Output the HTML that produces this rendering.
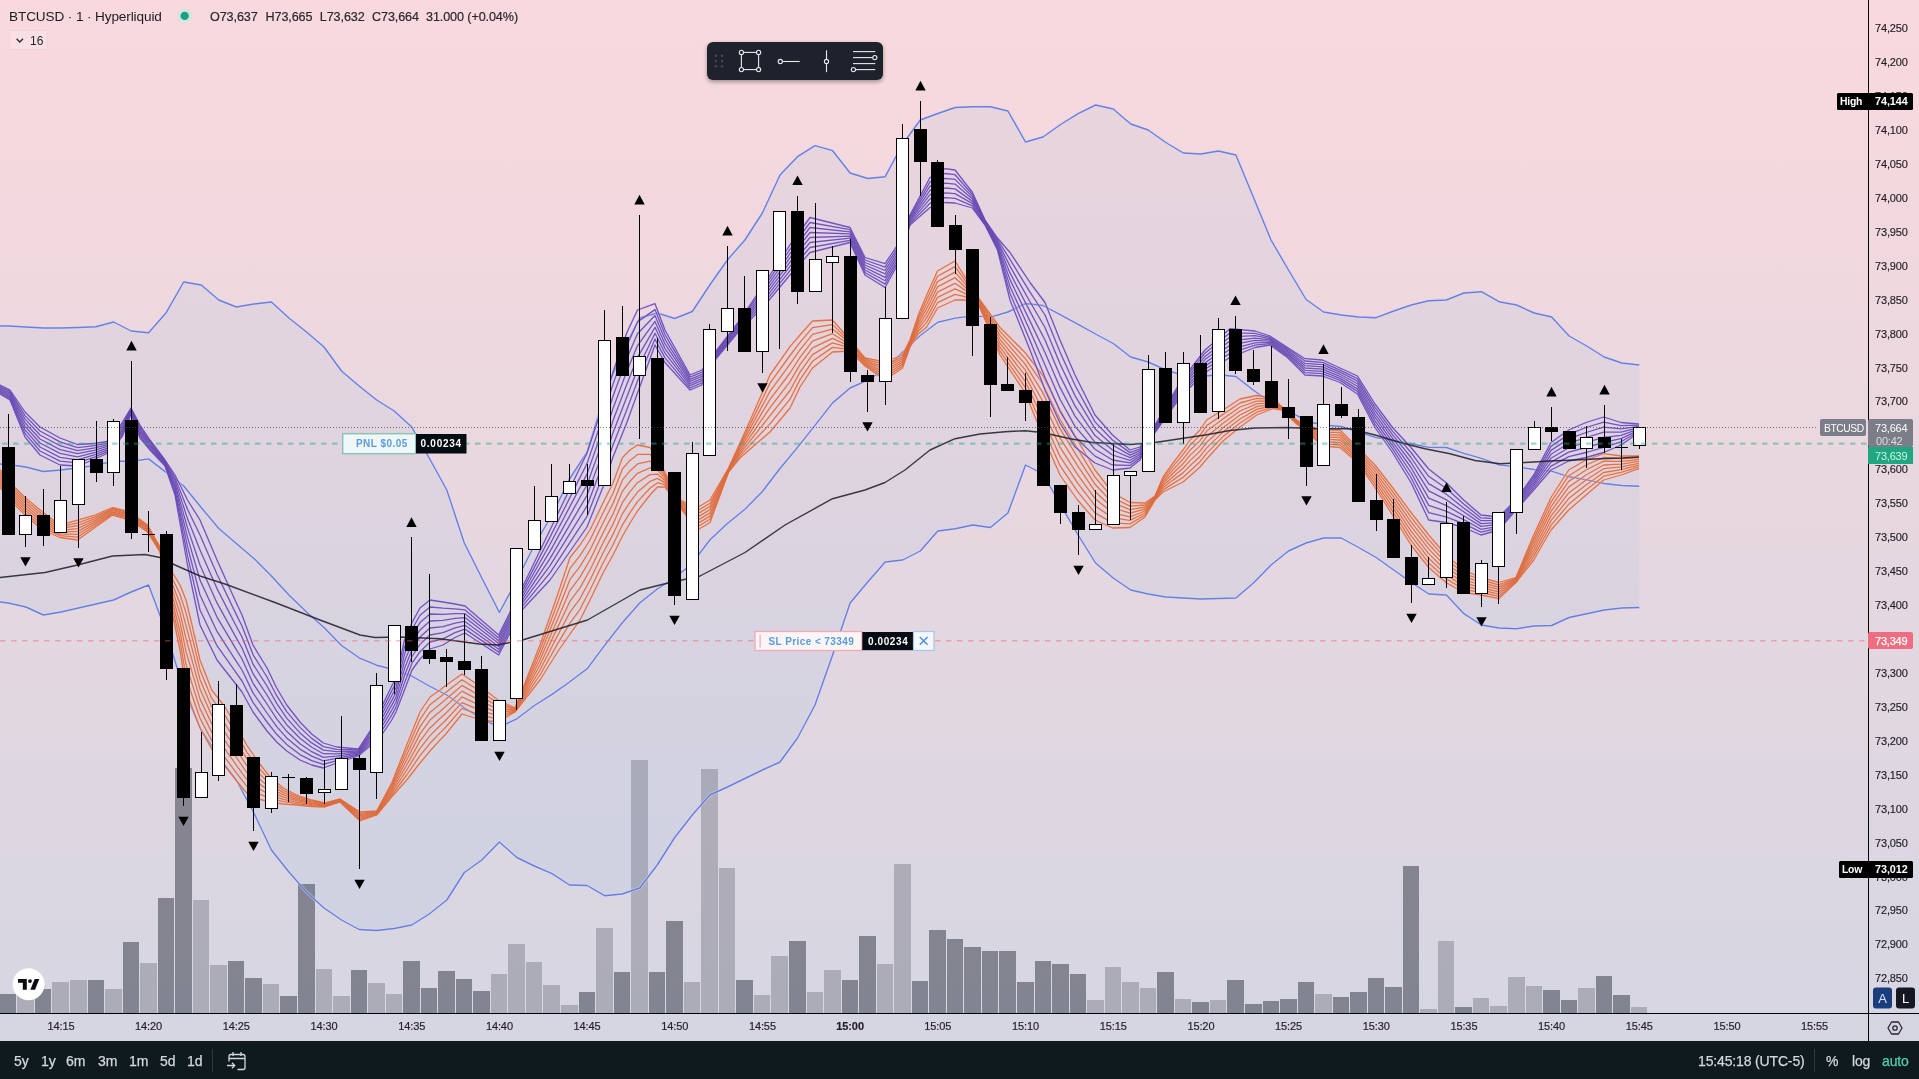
<!DOCTYPE html>
<html><head><meta charset="utf-8"><title>BTCUSD chart</title>
<style>
html,body{margin:0;padding:0;width:1919px;height:1079px;overflow:hidden;background:#0f1a1f;font-family:"Liberation Sans", sans-serif;}
#wrap{position:absolute;left:0;top:0;width:1919px;height:1041px;background:linear-gradient(to bottom,#f9d9dd 0px,#d6d6e2 1013px,#d6d6e2 1041px);}
#chart{position:absolute;left:0;top:0;display:block;will-change:transform;}
#bar{position:absolute;left:0;top:1041px;width:1919px;height:38px;background:#0f1a1f;color:#d4d7de;font-size:14px;}
#bar span{will-change:transform;position:absolute;top:11px;line-height:18px;white-space:nowrap;letter-spacing:-0.15px;-webkit-text-stroke:0.25px #d4d7de;}
#bar .sep{position:absolute;top:8px;width:1px;height:23px;background:#2c3a42;}
</style></head><body>
<div id="wrap">
<svg id="chart" width="1919" height="1041" viewBox="0 0 1919 1041">
<defs><clipPath id="pane"><rect x="0" y="0" width="1868" height="1013"/></clipPath></defs>
<g clip-path="url(#pane)">
<g shape-rendering="crispEdges">
<rect x="0" y="994" width="16" height="19" fill="rgba(6,12,24,0.405)"/>
<rect x="17" y="990" width="17" height="23" fill="rgba(6,12,24,0.205)"/>
<rect x="35" y="989" width="16" height="24" fill="rgba(6,12,24,0.405)"/>
<rect x="52" y="982" width="17" height="31" fill="rgba(6,12,24,0.205)"/>
<rect x="70" y="980" width="17" height="33" fill="rgba(6,12,24,0.205)"/>
<rect x="88" y="980" width="16" height="33" fill="rgba(6,12,24,0.405)"/>
<rect x="105" y="989" width="17" height="24" fill="rgba(6,12,24,0.205)"/>
<rect x="123" y="942" width="16" height="71" fill="rgba(6,12,24,0.405)"/>
<rect x="140" y="963" width="17" height="50" fill="rgba(6,12,24,0.205)"/>
<rect x="158" y="898" width="16" height="115" fill="rgba(6,12,24,0.405)"/>
<rect x="175" y="768" width="17" height="245" fill="rgba(6,12,24,0.405)"/>
<rect x="193" y="900" width="16" height="113" fill="rgba(6,12,24,0.205)"/>
<rect x="210" y="965" width="17" height="48" fill="rgba(6,12,24,0.205)"/>
<rect x="228" y="961" width="16" height="52" fill="rgba(6,12,24,0.405)"/>
<rect x="245" y="978" width="17" height="35" fill="rgba(6,12,24,0.405)"/>
<rect x="263" y="984" width="16" height="29" fill="rgba(6,12,24,0.205)"/>
<rect x="280" y="996" width="17" height="17" fill="rgba(6,12,24,0.405)"/>
<rect x="298" y="884" width="17" height="129" fill="rgba(6,12,24,0.405)"/>
<rect x="316" y="969" width="16" height="44" fill="rgba(6,12,24,0.205)"/>
<rect x="333" y="996" width="17" height="17" fill="rgba(6,12,24,0.205)"/>
<rect x="351" y="970" width="16" height="43" fill="rgba(6,12,24,0.405)"/>
<rect x="368" y="983" width="17" height="30" fill="rgba(6,12,24,0.205)"/>
<rect x="386" y="994" width="16" height="19" fill="rgba(6,12,24,0.205)"/>
<rect x="403" y="961" width="17" height="52" fill="rgba(6,12,24,0.405)"/>
<rect x="421" y="988" width="16" height="25" fill="rgba(6,12,24,0.405)"/>
<rect x="438" y="971" width="17" height="42" fill="rgba(6,12,24,0.405)"/>
<rect x="456" y="979" width="16" height="34" fill="rgba(6,12,24,0.405)"/>
<rect x="473" y="991" width="17" height="22" fill="rgba(6,12,24,0.405)"/>
<rect x="491" y="974" width="16" height="39" fill="rgba(6,12,24,0.205)"/>
<rect x="508" y="944" width="17" height="69" fill="rgba(6,12,24,0.205)"/>
<rect x="526" y="962" width="16" height="51" fill="rgba(6,12,24,0.205)"/>
<rect x="543" y="985" width="17" height="28" fill="rgba(6,12,24,0.205)"/>
<rect x="561" y="1005" width="17" height="8" fill="rgba(6,12,24,0.205)"/>
<rect x="579" y="992" width="16" height="21" fill="rgba(6,12,24,0.405)"/>
<rect x="596" y="928" width="17" height="85" fill="rgba(6,12,24,0.205)"/>
<rect x="614" y="972" width="16" height="41" fill="rgba(6,12,24,0.405)"/>
<rect x="631" y="760" width="17" height="253" fill="rgba(6,12,24,0.205)"/>
<rect x="649" y="972" width="16" height="41" fill="rgba(6,12,24,0.405)"/>
<rect x="666" y="921" width="17" height="92" fill="rgba(6,12,24,0.405)"/>
<rect x="684" y="982" width="16" height="31" fill="rgba(6,12,24,0.205)"/>
<rect x="701" y="769" width="17" height="244" fill="rgba(6,12,24,0.205)"/>
<rect x="719" y="868" width="16" height="145" fill="rgba(6,12,24,0.205)"/>
<rect x="736" y="980" width="17" height="33" fill="rgba(6,12,24,0.405)"/>
<rect x="754" y="995" width="16" height="18" fill="rgba(6,12,24,0.205)"/>
<rect x="771" y="956" width="17" height="57" fill="rgba(6,12,24,0.205)"/>
<rect x="789" y="941" width="17" height="72" fill="rgba(6,12,24,0.405)"/>
<rect x="807" y="992" width="16" height="21" fill="rgba(6,12,24,0.205)"/>
<rect x="824" y="970" width="17" height="43" fill="rgba(6,12,24,0.205)"/>
<rect x="842" y="980" width="16" height="33" fill="rgba(6,12,24,0.405)"/>
<rect x="859" y="936" width="17" height="77" fill="rgba(6,12,24,0.405)"/>
<rect x="877" y="964" width="16" height="49" fill="rgba(6,12,24,0.205)"/>
<rect x="894" y="864" width="17" height="149" fill="rgba(6,12,24,0.205)"/>
<rect x="912" y="981" width="16" height="32" fill="rgba(6,12,24,0.405)"/>
<rect x="929" y="930" width="17" height="83" fill="rgba(6,12,24,0.405)"/>
<rect x="947" y="939" width="16" height="74" fill="rgba(6,12,24,0.405)"/>
<rect x="964" y="947" width="17" height="66" fill="rgba(6,12,24,0.405)"/>
<rect x="982" y="951" width="16" height="62" fill="rgba(6,12,24,0.405)"/>
<rect x="999" y="951" width="17" height="62" fill="rgba(6,12,24,0.405)"/>
<rect x="1017" y="982" width="17" height="31" fill="rgba(6,12,24,0.405)"/>
<rect x="1035" y="961" width="16" height="52" fill="rgba(6,12,24,0.405)"/>
<rect x="1052" y="964" width="17" height="49" fill="rgba(6,12,24,0.405)"/>
<rect x="1070" y="974" width="16" height="39" fill="rgba(6,12,24,0.405)"/>
<rect x="1087" y="1000" width="17" height="13" fill="rgba(6,12,24,0.205)"/>
<rect x="1105" y="967" width="16" height="46" fill="rgba(6,12,24,0.205)"/>
<rect x="1122" y="982" width="17" height="31" fill="rgba(6,12,24,0.205)"/>
<rect x="1140" y="988" width="16" height="25" fill="rgba(6,12,24,0.205)"/>
<rect x="1157" y="972" width="17" height="41" fill="rgba(6,12,24,0.405)"/>
<rect x="1175" y="999" width="16" height="14" fill="rgba(6,12,24,0.205)"/>
<rect x="1192" y="1002" width="17" height="11" fill="rgba(6,12,24,0.405)"/>
<rect x="1210" y="1000" width="16" height="13" fill="rgba(6,12,24,0.205)"/>
<rect x="1227" y="980" width="17" height="33" fill="rgba(6,12,24,0.405)"/>
<rect x="1245" y="1004" width="17" height="9" fill="rgba(6,12,24,0.405)"/>
<rect x="1263" y="1001" width="16" height="12" fill="rgba(6,12,24,0.405)"/>
<rect x="1280" y="999" width="17" height="14" fill="rgba(6,12,24,0.405)"/>
<rect x="1298" y="982" width="16" height="31" fill="rgba(6,12,24,0.405)"/>
<rect x="1315" y="994" width="17" height="19" fill="rgba(6,12,24,0.205)"/>
<rect x="1333" y="997" width="16" height="16" fill="rgba(6,12,24,0.405)"/>
<rect x="1350" y="992" width="17" height="21" fill="rgba(6,12,24,0.405)"/>
<rect x="1368" y="978" width="16" height="35" fill="rgba(6,12,24,0.405)"/>
<rect x="1385" y="987" width="17" height="26" fill="rgba(6,12,24,0.405)"/>
<rect x="1403" y="866" width="16" height="147" fill="rgba(6,12,24,0.405)"/>
<rect x="1420" y="1009" width="17" height="4" fill="rgba(6,12,24,0.205)"/>
<rect x="1438" y="941" width="16" height="72" fill="rgba(6,12,24,0.205)"/>
<rect x="1455" y="1007" width="17" height="6" fill="rgba(6,12,24,0.405)"/>
<rect x="1473" y="998" width="16" height="15" fill="rgba(6,12,24,0.205)"/>
<rect x="1490" y="1006" width="17" height="7" fill="rgba(6,12,24,0.205)"/>
<rect x="1508" y="977" width="17" height="36" fill="rgba(6,12,24,0.205)"/>
<rect x="1526" y="986" width="16" height="27" fill="rgba(6,12,24,0.205)"/>
<rect x="1543" y="990" width="17" height="23" fill="rgba(6,12,24,0.405)"/>
<rect x="1561" y="1000" width="16" height="13" fill="rgba(6,12,24,0.405)"/>
<rect x="1578" y="988" width="17" height="25" fill="rgba(6,12,24,0.205)"/>
<rect x="1596" y="976" width="16" height="37" fill="rgba(6,12,24,0.405)"/>
<rect x="1613" y="995" width="17" height="18" fill="rgba(6,12,24,0.405)"/>
<rect x="1631" y="1007" width="16" height="6" fill="rgba(6,12,24,0.205)"/>
</g>
<polygon points="-9.2,326 8.3,326 25.9,327 43.4,328 61,328 78.5,327.5 96,326.7 113.6,322 131.1,331 148.6,332.7 166.2,312.7 183.7,282 201.2,285 218.8,300 236.3,307 253.9,304 271.4,302 288.9,318 306.5,332 324,347 341.5,371 359.1,386 376.6,400 394.2,411 411.7,427 429.2,458 446.8,490 464.3,543 481.8,578 499.4,612.5 516.9,580 534.4,545 552,515 569.5,479 587.1,452 604.6,395 622.1,352 639.7,318 657.2,313 674.7,318.5 692.3,311.5 709.8,285 727.4,260 744.9,240 762.4,213 780,175 797.5,156.7 815,145.7 832.6,150.7 850.1,173 867.7,178.5 885.2,176.7 902.7,144 920.3,120 937.8,113.5 955.3,107.5 972.9,106.7 990.4,106.7 1007.9,111 1025.5,142 1043,137 1060.6,124.5 1078.1,113.7 1095.6,105 1113.2,109 1130.7,124 1148.2,130 1165.8,142.5 1183.3,153 1200.9,154 1218.4,151 1235.9,155 1253.5,197.5 1271,240 1288.5,270 1306.1,299.5 1323.6,312 1341.2,315 1358.7,317 1376.2,317.7 1393.8,311 1411.3,305 1428.8,300.7 1446.4,300 1463.9,293 1481.4,291.7 1499,301.7 1516.5,305 1534.1,313 1551.6,317 1569.1,336 1586.7,346 1604.2,357 1621.7,363 1639.3,365 1639.3,607.5 1621.7,608 1604.2,610 1586.7,613.7 1569.1,617.5 1551.6,625.5 1534.1,626 1516.5,628.7 1499,628 1481.4,625 1463.9,613.7 1446.4,595 1428.8,594 1411.3,582.5 1393.8,570 1376.2,557.5 1358.7,547.5 1341.2,538 1323.6,538 1306.1,543 1288.5,551 1271,565 1253.5,583 1235.9,598 1218.4,598.5 1200.9,599 1183.3,598 1165.8,597 1148.2,594 1130.7,590 1113.2,578 1095.6,563 1078.1,535 1060.6,505 1043,474 1025.5,465 1007.9,513 990.4,527.5 972.9,525 955.3,528.7 937.8,531 920.3,551 902.7,560 885.2,562 867.7,582 850.1,603 832.6,655 815,705 797.5,738 780,762 762.4,770 744.9,778.5 727.4,787 709.8,795 692.3,815 674.7,837.5 657.2,865 639.7,888 622.1,894 604.6,895.7 587.1,885.5 569.5,885 552,873.7 534.4,866 516.9,857.5 499.4,842 481.8,860 464.3,872.5 446.8,900 429.2,914 411.7,925 394.2,928.5 376.6,930.5 359.1,929.5 341.5,920 324,908 306.5,892 288.9,872 271.4,850 253.9,813 236.3,780 218.8,757 201.2,730 183.7,690 166.2,632 148.6,585 131.1,592 113.6,600 96,604 78.5,608 61,612 43.4,615 25.9,607 8.3,603 -9.2,601" fill="rgba(33,150,243,0.055)"/>
<polyline points="-9.2,326 8.3,326 25.9,327 43.4,328 61,328 78.5,327.5 96,326.7 113.6,322 131.1,331 148.6,332.7 166.2,312.7 183.7,282 201.2,285 218.8,300 236.3,307 253.9,304 271.4,302 288.9,318 306.5,332 324,347 341.5,371 359.1,386 376.6,400 394.2,411 411.7,427 429.2,458 446.8,490 464.3,543 481.8,578 499.4,612.5 516.9,580 534.4,545 552,515 569.5,479 587.1,452 604.6,395 622.1,352 639.7,318 657.2,313 674.7,318.5 692.3,311.5 709.8,285 727.4,260 744.9,240 762.4,213 780,175 797.5,156.7 815,145.7 832.6,150.7 850.1,173 867.7,178.5 885.2,176.7 902.7,144 920.3,120 937.8,113.5 955.3,107.5 972.9,106.7 990.4,106.7 1007.9,111 1025.5,142 1043,137 1060.6,124.5 1078.1,113.7 1095.6,105 1113.2,109 1130.7,124 1148.2,130 1165.8,142.5 1183.3,153 1200.9,154 1218.4,151 1235.9,155 1253.5,197.5 1271,240 1288.5,270 1306.1,299.5 1323.6,312 1341.2,315 1358.7,317 1376.2,317.7 1393.8,311 1411.3,305 1428.8,300.7 1446.4,300 1463.9,293 1481.4,291.7 1499,301.7 1516.5,305 1534.1,313 1551.6,317 1569.1,336 1586.7,346 1604.2,357 1621.7,363 1639.3,365" fill="none" stroke="#d8dcff" stroke-width="3.2" stroke-opacity="0.5" stroke-linejoin="round"/>
<polyline points="-9.2,601 8.3,603 25.9,607 43.4,615 61,612 78.5,608 96,604 113.6,600 131.1,592 148.6,585 166.2,632 183.7,690 201.2,730 218.8,757 236.3,780 253.9,813 271.4,850 288.9,872 306.5,892 324,908 341.5,920 359.1,929.5 376.6,930.5 394.2,928.5 411.7,925 429.2,914 446.8,900 464.3,872.5 481.8,860 499.4,842 516.9,857.5 534.4,866 552,873.7 569.5,885 587.1,885.5 604.6,895.7 622.1,894 639.7,888 657.2,865 674.7,837.5 692.3,815 709.8,795 727.4,787 744.9,778.5 762.4,770 780,762 797.5,738 815,705 832.6,655 850.1,603 867.7,582 885.2,562 902.7,560 920.3,551 937.8,531 955.3,528.7 972.9,525 990.4,527.5 1007.9,513 1025.5,465 1043,474 1060.6,505 1078.1,535 1095.6,563 1113.2,578 1130.7,590 1148.2,594 1165.8,597 1183.3,598 1200.9,599 1218.4,598.5 1235.9,598 1253.5,583 1271,565 1288.5,551 1306.1,543 1323.6,538 1341.2,538 1358.7,547.5 1376.2,557.5 1393.8,570 1411.3,582.5 1428.8,594 1446.4,595 1463.9,613.7 1481.4,625 1499,628 1516.5,628.7 1534.1,626 1551.6,625.5 1569.1,617.5 1586.7,613.7 1604.2,610 1621.7,608 1639.3,607.5" fill="none" stroke="#d8dcff" stroke-width="3.2" stroke-opacity="0.5" stroke-linejoin="round"/>
<polyline points="-9.2,463.5 8.3,464.5 25.9,467 43.4,471.5 61,470 78.5,467.8 96,465.4 113.6,461 131.1,461.5 148.6,458.9 166.2,472.4 183.7,486 201.2,507.5 218.8,528.5 236.3,543.5 253.9,558.5 271.4,576 288.9,595 306.5,612 324,627.5 341.5,645.5 359.1,657.8 376.6,665.2 394.2,669.8 411.7,676 429.2,686 446.8,695 464.3,707.8 481.8,719 499.4,727.2 516.9,718.8 534.4,705.5 552,694.4 569.5,682 587.1,668.8 604.6,645.4 622.1,623 639.7,603 657.2,589 674.7,578 692.3,563.2 709.8,540 727.4,523.5 744.9,509.2 762.4,491.5 780,468.5 797.5,447.4 815,425.4 832.6,402.9 850.1,388 867.7,380.2 885.2,369.4 902.7,352 920.3,335.5 937.8,322.2 955.3,318.1 972.9,315.9 990.4,317.1 1007.9,312 1025.5,303.5 1043,305.5 1060.6,314.8 1078.1,324.4 1095.6,334 1113.2,343.5 1130.7,357 1148.2,362 1165.8,369.8 1183.3,375.5 1200.9,376.5 1218.4,374.8 1235.9,376.5 1253.5,390.2 1271,402.5 1288.5,410.5 1306.1,421.2 1323.6,425 1341.2,426.5 1358.7,432.2 1376.2,437.6 1393.8,440.5 1411.3,443.8 1428.8,447.4 1446.4,447.5 1463.9,453.4 1481.4,458.4 1499,464.9 1516.5,466.9 1534.1,469.5 1551.6,471.2 1569.1,476.8 1586.7,479.9 1604.2,483.5 1621.7,485.5 1639.3,486.2" fill="none" stroke="#d8dcff" stroke-width="3.2" stroke-opacity="0.5" stroke-linejoin="round"/>
<polyline points="-9.2,326 8.3,326 25.9,327 43.4,328 61,328 78.5,327.5 96,326.7 113.6,322 131.1,331 148.6,332.7 166.2,312.7 183.7,282 201.2,285 218.8,300 236.3,307 253.9,304 271.4,302 288.9,318 306.5,332 324,347 341.5,371 359.1,386 376.6,400 394.2,411 411.7,427 429.2,458 446.8,490 464.3,543 481.8,578 499.4,612.5 516.9,580 534.4,545 552,515 569.5,479 587.1,452 604.6,395 622.1,352 639.7,318 657.2,313 674.7,318.5 692.3,311.5 709.8,285 727.4,260 744.9,240 762.4,213 780,175 797.5,156.7 815,145.7 832.6,150.7 850.1,173 867.7,178.5 885.2,176.7 902.7,144 920.3,120 937.8,113.5 955.3,107.5 972.9,106.7 990.4,106.7 1007.9,111 1025.5,142 1043,137 1060.6,124.5 1078.1,113.7 1095.6,105 1113.2,109 1130.7,124 1148.2,130 1165.8,142.5 1183.3,153 1200.9,154 1218.4,151 1235.9,155 1253.5,197.5 1271,240 1288.5,270 1306.1,299.5 1323.6,312 1341.2,315 1358.7,317 1376.2,317.7 1393.8,311 1411.3,305 1428.8,300.7 1446.4,300 1463.9,293 1481.4,291.7 1499,301.7 1516.5,305 1534.1,313 1551.6,317 1569.1,336 1586.7,346 1604.2,357 1621.7,363 1639.3,365" fill="none" stroke="#6176d3" stroke-width="1.4" stroke-opacity="0.9" stroke-linejoin="round"/>
<polyline points="-9.2,601 8.3,603 25.9,607 43.4,615 61,612 78.5,608 96,604 113.6,600 131.1,592 148.6,585 166.2,632 183.7,690 201.2,730 218.8,757 236.3,780 253.9,813 271.4,850 288.9,872 306.5,892 324,908 341.5,920 359.1,929.5 376.6,930.5 394.2,928.5 411.7,925 429.2,914 446.8,900 464.3,872.5 481.8,860 499.4,842 516.9,857.5 534.4,866 552,873.7 569.5,885 587.1,885.5 604.6,895.7 622.1,894 639.7,888 657.2,865 674.7,837.5 692.3,815 709.8,795 727.4,787 744.9,778.5 762.4,770 780,762 797.5,738 815,705 832.6,655 850.1,603 867.7,582 885.2,562 902.7,560 920.3,551 937.8,531 955.3,528.7 972.9,525 990.4,527.5 1007.9,513 1025.5,465 1043,474 1060.6,505 1078.1,535 1095.6,563 1113.2,578 1130.7,590 1148.2,594 1165.8,597 1183.3,598 1200.9,599 1218.4,598.5 1235.9,598 1253.5,583 1271,565 1288.5,551 1306.1,543 1323.6,538 1341.2,538 1358.7,547.5 1376.2,557.5 1393.8,570 1411.3,582.5 1428.8,594 1446.4,595 1463.9,613.7 1481.4,625 1499,628 1516.5,628.7 1534.1,626 1551.6,625.5 1569.1,617.5 1586.7,613.7 1604.2,610 1621.7,608 1639.3,607.5" fill="none" stroke="#6176d3" stroke-width="1.4" stroke-opacity="0.9" stroke-linejoin="round"/>
<polyline points="-9.2,463.5 8.3,464.5 25.9,467 43.4,471.5 61,470 78.5,467.8 96,465.4 113.6,461 131.1,461.5 148.6,458.9 166.2,472.4 183.7,486 201.2,507.5 218.8,528.5 236.3,543.5 253.9,558.5 271.4,576 288.9,595 306.5,612 324,627.5 341.5,645.5 359.1,657.8 376.6,665.2 394.2,669.8 411.7,676 429.2,686 446.8,695 464.3,707.8 481.8,719 499.4,727.2 516.9,718.8 534.4,705.5 552,694.4 569.5,682 587.1,668.8 604.6,645.4 622.1,623 639.7,603 657.2,589 674.7,578 692.3,563.2 709.8,540 727.4,523.5 744.9,509.2 762.4,491.5 780,468.5 797.5,447.4 815,425.4 832.6,402.9 850.1,388 867.7,380.2 885.2,369.4 902.7,352 920.3,335.5 937.8,322.2 955.3,318.1 972.9,315.9 990.4,317.1 1007.9,312 1025.5,303.5 1043,305.5 1060.6,314.8 1078.1,324.4 1095.6,334 1113.2,343.5 1130.7,357 1148.2,362 1165.8,369.8 1183.3,375.5 1200.9,376.5 1218.4,374.8 1235.9,376.5 1253.5,390.2 1271,402.5 1288.5,410.5 1306.1,421.2 1323.6,425 1341.2,426.5 1358.7,432.2 1376.2,437.6 1393.8,440.5 1411.3,443.8 1428.8,447.4 1446.4,447.5 1463.9,453.4 1481.4,458.4 1499,464.9 1516.5,466.9 1534.1,469.5 1551.6,471.2 1569.1,476.8 1586.7,479.9 1604.2,483.5 1621.7,485.5 1639.3,486.2" fill="none" stroke="#6176d3" stroke-width="1.4" stroke-opacity="0.9" stroke-linejoin="round"/>
<g fill="none" stroke="#ffc9bd" stroke-width="3" stroke-opacity="0.4" stroke-linejoin="round">
<polyline points="-10,465 0,470 15,487.5 25,497.5 42.5,512 60,525 77.5,520 95,515 112.5,507.5 130,512 147.5,525 160,547 172,572 180,585 186,600 192,625 200,660 211.7,690 225,707 236.7,727 246.7,745 258.3,762 270,777 283.3,788 296.7,795 311.7,800 325,803 340,799 360,812 376.7,811 391.7,783 406.7,745 420,712 430,697 440,690 445,686 462,674 481,687 498,700 515,708 540,645 557.5,595 570,557.5 580,545 590,530 603,503 613,483 622.5,457.5 630,450 637.5,445 650,447.5 657.5,457 665,472.5 680,500 697.5,507.5 710,500 728.6,468 740,443 752.5,415 770,375 790,346.7 800,335 812.5,321 832.5,320 850,340 865,358 885,362 902.5,355 910,340 918.3,315 926.7,295 937.5,271 955,261 965,277 980,300 1000,327.5 1025,352.5 1042.5,375 1060,410 1077.5,440 1095,470 1112.5,492.5 1130,502.5 1145,503 1155,496 1163,477 1173,463 1183,450 1190,440 1200,430 1206.7,420 1223,410 1240,399 1256.7,395.5 1273,398 1282,407 1296.7,420 1305,425 1322.5,430 1340,430 1357.5,447.5 1375,465 1392.5,487.5 1411,512.5 1428.7,535 1446,555 1463.7,570 1481,577.5 1498.7,582.5 1516,577.5 1533.7,535 1551,497.5 1568.7,470 1586,460 1603.7,453.7 1621,456 1639,456"/>
<polyline points="-10,467.4 0,472.5 15,490 25,500 42.5,514.6 60,526.8 77.5,522.9 95,516.8 112.5,508.6 130,513.1 147.5,526 160,547.7 172,577.7 180,594.3 186,612.9 192,636.7 200,669.7 211.7,698.4 225,715.4 236.7,734.7 246.7,751.9 258.3,767.3 270,780.6 283.3,790.3 296.7,796.4 311.7,800.9 325,803.6 340,799.4 360,813.3 376.7,811.6 391.7,785 406.7,750 420,719.3 430,704.7 440,697.1 445,693 462,679.7 481,691.7 498,703.1 515,708.6 540,650 557.5,603.1 570,568.4 580,555.7 590,540 603,513 613,493.3 622.5,468.7 630,460.4 637.5,454.4 650,454.3 657.5,461.3 665,474.6 680,501.1 697.5,510.7 710,503.2 728.6,468.6 740,445.1 752.5,419.6 770,383.1 790,355.5 800,342.4 812.5,327.7 832.5,324.6 850,341.6 865,359.1 885,364.6 902.5,356.9 910,341 918.3,317.7 926.7,299.6 937.5,276.3 955,266.6 965,280.3 980,301.1 1000,331.4 1025,358.2 1042.5,383.6 1060,419.3 1077.5,448.6 1095,477.1 1112.5,497.6 1130,506.1 1145,505 1155,496.6 1163,479.1 1173,466.4 1183,454.6 1190,445.1 1200,435.3 1206.7,425.6 1223,414.4 1240,403 1256.7,398.3 1273,399.5 1282,407.4 1296.7,420.6 1305,425.7 1322.5,432.3 1340,432.5 1357.5,449.6 1375,468.2 1392.5,491.4 1411,517.1 1428.7,539.6 1446,558.9 1463.7,573.2 1481,580 1498.7,584.8 1516,578.2 1533.7,538.6 1551,502.1 1568.7,475.7 1586,465 1603.7,457.5 1621,458.7 1639,457.8"/>
<polyline points="-10,469.9 0,475 15,492.5 25,502.5 42.5,517.1 60,528.6 77.5,525.7 95,518.6 112.5,509.6 130,514.3 147.5,527 160,548.4 172,583.4 180,603.6 186,625.7 192,648.4 200,679.4 211.7,706.9 225,723.9 236.7,742.4 246.7,758.7 258.3,772.6 270,784.1 283.3,792.6 296.7,797.9 311.7,801.9 325,804.1 340,799.9 360,814.6 376.7,812.1 391.7,787 406.7,755 420,726.6 430,712.4 440,704.3 445,700 462,685.4 481,696.4 498,706.3 515,709.1 540,655 557.5,611.3 570,579.4 580,566.4 590,550 603,523 613,503.6 622.5,479.9 630,470.9 637.5,463.9 650,461.1 657.5,465.6 665,476.6 680,502.1 697.5,513.9 710,506.4 728.6,469.1 740,447.3 752.5,424.1 770,391.3 790,364.2 800,349.9 812.5,334.4 832.5,329.1 850,343.1 865,360.3 885,367.1 902.5,358.7 910,342 918.3,320.4 926.7,304.1 937.5,281.6 955,272.1 965,283.6 980,302.3 1000,335.4 1025,363.9 1042.5,392.1 1060,428.6 1077.5,457.1 1095,484.3 1112.5,502.6 1130,509.6 1145,507 1155,497.1 1163,481.3 1173,469.9 1183,459.1 1190,450.3 1200,440.6 1206.7,431.1 1223,418.9 1240,407 1256.7,401.1 1273,401 1282,407.9 1296.7,421.1 1305,426.4 1322.5,434.6 1340,435 1357.5,451.8 1375,471.4 1392.5,495.4 1411,521.8 1428.7,544.3 1446,562.9 1463.7,576.4 1481,582.5 1498.7,587.1 1516,578.9 1533.7,542.1 1551,506.8 1568.7,481.4 1586,470 1603.7,461.2 1621,461.4 1639,459.6"/>
<polyline points="-10,472.3 0,477.5 15,495 25,505 42.5,519.7 60,530.4 77.5,528.6 95,520.4 112.5,510.7 130,515.4 147.5,528 160,549.1 172,589.1 180,612.9 186,638.6 192,660.1 200,689.1 211.7,715.3 225,732.3 236.7,750.1 246.7,765.6 258.3,777.9 270,787.7 283.3,794.9 296.7,799.3 311.7,802.8 325,804.7 340,800.3 360,815.9 376.7,812.7 391.7,789 406.7,760 420,733.9 430,720.1 440,711.4 445,707 462,691.1 481,701.1 498,709.4 515,709.7 540,660 557.5,619.4 570,590.3 580,577.1 590,560 603,533 613,513.9 622.5,491.1 630,481.3 637.5,473.3 650,467.9 657.5,469.9 665,478.7 680,503.2 697.5,517.1 710,509.6 728.6,469.7 740,449.4 752.5,428.7 770,399.4 790,373 800,357.3 812.5,341.1 832.5,333.7 850,344.7 865,361.4 885,369.7 902.5,360.6 910,343 918.3,323.1 926.7,308.7 937.5,286.9 955,277.7 965,286.9 980,303.4 1000,339.3 1025,369.6 1042.5,400.7 1060,437.9 1077.5,465.7 1095,491.4 1112.5,507.7 1130,513.2 1145,509 1155,497.7 1163,483.4 1173,473.3 1183,463.7 1190,455.4 1200,445.9 1206.7,436.7 1223,423.3 1240,411 1256.7,403.9 1273,402.5 1282,408.3 1296.7,421.7 1305,427.1 1322.5,436.9 1340,437.5 1357.5,453.9 1375,474.6 1392.5,499.3 1411,526.4 1428.7,548.9 1446,566.8 1463.7,579.6 1481,585 1498.7,589.4 1516,579.6 1533.7,545.7 1551,511.4 1568.7,487.1 1586,475 1603.7,465 1621,464.1 1639,461.4"/>
<polyline points="-10,474.7 0,480 15,497.5 25,507.5 42.5,522.3 60,532.1 77.5,531.4 95,522.1 112.5,511.8 130,516.6 147.5,529 160,549.9 172,594.9 180,622.1 186,651.4 192,671.9 200,698.9 211.7,723.7 225,740.7 236.7,757.9 246.7,772.4 258.3,783.1 270,791.3 283.3,797.1 296.7,800.7 311.7,803.7 325,805.3 340,800.7 360,817.1 376.7,813.3 391.7,791 406.7,765 420,741.1 430,727.9 440,718.6 445,714 462,696.9 481,705.9 498,712.6 515,710.3 540,665 557.5,627.6 570,601.2 580,587.9 590,570 603,543 613,524.1 622.5,502.4 630,491.7 637.5,482.7 650,474.6 657.5,474.1 665,480.8 680,504.3 697.5,520.4 710,512.9 728.6,470.3 740,451.6 752.5,433.3 770,407.6 790,381.7 800,364.7 812.5,347.9 832.5,338.3 850,346.3 865,362.6 885,372.3 902.5,362.4 910,344 918.3,325.9 926.7,313.3 937.5,292.1 955,283.3 965,290.1 980,304.6 1000,343.2 1025,375.4 1042.5,409.3 1060,447.1 1077.5,474.3 1095,498.6 1112.5,512.8 1130,516.8 1145,511 1155,498.3 1163,485.6 1173,476.7 1183,468.3 1190,460.6 1200,451.1 1206.7,442.3 1223,427.7 1240,415 1256.7,406.6 1273,404 1282,408.7 1296.7,422.3 1305,427.9 1322.5,439.1 1340,440 1357.5,456.1 1375,477.9 1392.5,503.2 1411,531.1 1428.7,553.6 1446,570.7 1463.7,582.9 1481,587.5 1498.7,591.8 1516,580.4 1533.7,549.3 1551,516.1 1568.7,492.9 1586,480 1603.7,468.7 1621,466.9 1639,463.3"/>
<polyline points="-10,477.1 0,482.5 15,500 25,510 42.5,524.9 60,533.9 77.5,534.3 95,523.9 112.5,512.9 130,517.7 147.5,530 160,550.6 172,600.6 180,631.4 186,664.3 192,683.6 200,708.6 211.7,732.1 225,749.1 236.7,765.6 246.7,779.3 258.3,788.4 270,794.9 283.3,799.4 296.7,802.1 311.7,804.6 325,805.9 340,801.1 360,818.4 376.7,813.9 391.7,793 406.7,770 420,748.4 430,735.6 440,725.7 445,721 462,702.6 481,710.6 498,715.7 515,710.9 540,670 557.5,635.7 570,612.1 580,598.6 590,580 603,553 613,534.4 622.5,513.6 630,502.1 637.5,492.1 650,481.4 657.5,478.4 665,482.9 680,505.4 697.5,523.6 710,516.1 728.6,470.9 740,453.7 752.5,437.9 770,415.7 790,390.5 800,372.1 812.5,354.6 832.5,342.9 850,347.9 865,363.7 885,374.9 902.5,364.3 910,345 918.3,328.6 926.7,317.9 937.5,297.4 955,288.9 965,293.4 980,305.7 1000,347.1 1025,381.1 1042.5,417.9 1060,456.4 1077.5,482.9 1095,505.7 1112.5,517.9 1130,520.4 1145,513 1155,498.9 1163,487.7 1173,480.1 1183,472.9 1190,465.7 1200,456.4 1206.7,447.9 1223,432.1 1240,419 1256.7,409.4 1273,405.5 1282,409.1 1296.7,422.9 1305,428.6 1322.5,441.4 1340,442.5 1357.5,458.2 1375,481.1 1392.5,507.1 1411,535.7 1428.7,558.2 1446,574.6 1463.7,586.1 1481,590 1498.7,594.1 1516,581.1 1533.7,552.9 1551,520.7 1568.7,498.6 1586,485 1603.7,472.5 1621,469.6 1639,465.1"/>
<polyline points="-10,479.6 0,485 15,502.5 25,512.5 42.5,527.4 60,535.7 77.5,537.1 95,525.7 112.5,513.9 130,518.9 147.5,531 160,551.3 172,606.3 180,640.7 186,677.1 192,695.3 200,718.3 211.7,740.6 225,757.6 236.7,773.3 246.7,786.1 258.3,793.7 270,798.4 283.3,801.7 296.7,803.6 311.7,805.6 325,806.4 340,801.6 360,819.7 376.7,814.4 391.7,795 406.7,775 420,755.7 430,743.3 440,732.9 445,728 462,708.3 481,715.3 498,718.9 515,711.4 540,675 557.5,643.9 570,623.1 580,609.3 590,590 603,563 613,544.7 622.5,524.8 630,512.6 637.5,501.6 650,488.2 657.5,482.7 665,484.9 680,506.4 697.5,526.8 710,519.3 728.6,471.4 740,455.9 752.5,442.4 770,423.9 790,399.2 800,379.6 812.5,361.3 832.5,347.4 850,349.4 865,364.9 885,377.4 902.5,366.1 910,346 918.3,331.3 926.7,322.4 937.5,302.7 955,294.4 965,296.7 980,306.9 1000,351.1 1025,386.8 1042.5,426.4 1060,465.7 1077.5,491.4 1095,512.9 1112.5,522.9 1130,523.9 1145,515 1155,499.4 1163,489.9 1173,483.6 1183,477.4 1190,470.9 1200,461.7 1206.7,453.4 1223,436.6 1240,423 1256.7,412.2 1273,407 1282,409.6 1296.7,423.4 1305,429.3 1322.5,443.7 1340,445 1357.5,460.4 1375,484.3 1392.5,511.1 1411,540.4 1428.7,562.9 1446,578.6 1463.7,589.3 1481,592.5 1498.7,596.4 1516,581.8 1533.7,556.4 1551,525.4 1568.7,504.3 1586,490 1603.7,476.2 1621,472.3 1639,466.9"/>
<polyline points="-10,482 0,487.5 15,505 25,515 42.5,530 60,537.5 77.5,540 95,527.5 112.5,515 130,520 147.5,532 160,552 172,612 180,650 186,690 192,707 200,728 211.7,749 225,766 236.7,781 246.7,793 258.3,799 270,802 283.3,804 296.7,805 311.7,806.5 325,807 340,802 360,821 376.7,815 391.7,797 406.7,780 420,763 430,751 440,740 445,735 462,714 481,720 498,722 515,712 540,680 557.5,652 570,634 580,620 590,600 603,573 613,555 622.5,536 630,523 637.5,511 650,495 657.5,487 665,487 680,507.5 697.5,530 710,522.5 728.6,472 740,458 752.5,447 770,432 790,408 800,387 812.5,368 832.5,352 850,351 865,366 885,380 902.5,368 910,347 918.3,334 926.7,327 937.5,308 955,300 965,300 980,308 1000,355 1025,392.5 1042.5,435 1060,475 1077.5,500 1095,520 1112.5,528 1130,527.5 1145,517 1155,500 1163,492 1173,487 1183,482 1190,476 1200,467 1206.7,459 1223,441 1240,427 1256.7,415 1273,408.5 1282,410 1296.7,424 1305,430 1322.5,446 1340,447.5 1357.5,462.5 1375,487.5 1392.5,515 1411,545 1428.7,567.5 1446,582.5 1463.7,592.5 1481,595 1498.7,598.7 1516,582.5 1533.7,560 1551,530 1568.7,510 1586,495 1603.7,480 1621,475 1639,468.7"/>
</g>
<g fill="none" stroke="#d96e42" stroke-width="1.3" stroke-opacity="0.92" stroke-linejoin="round">
<polyline points="-10,465 0,470 15,487.5 25,497.5 42.5,512 60,525 77.5,520 95,515 112.5,507.5 130,512 147.5,525 160,547 172,572 180,585 186,600 192,625 200,660 211.7,690 225,707 236.7,727 246.7,745 258.3,762 270,777 283.3,788 296.7,795 311.7,800 325,803 340,799 360,812 376.7,811 391.7,783 406.7,745 420,712 430,697 440,690 445,686 462,674 481,687 498,700 515,708 540,645 557.5,595 570,557.5 580,545 590,530 603,503 613,483 622.5,457.5 630,450 637.5,445 650,447.5 657.5,457 665,472.5 680,500 697.5,507.5 710,500 728.6,468 740,443 752.5,415 770,375 790,346.7 800,335 812.5,321 832.5,320 850,340 865,358 885,362 902.5,355 910,340 918.3,315 926.7,295 937.5,271 955,261 965,277 980,300 1000,327.5 1025,352.5 1042.5,375 1060,410 1077.5,440 1095,470 1112.5,492.5 1130,502.5 1145,503 1155,496 1163,477 1173,463 1183,450 1190,440 1200,430 1206.7,420 1223,410 1240,399 1256.7,395.5 1273,398 1282,407 1296.7,420 1305,425 1322.5,430 1340,430 1357.5,447.5 1375,465 1392.5,487.5 1411,512.5 1428.7,535 1446,555 1463.7,570 1481,577.5 1498.7,582.5 1516,577.5 1533.7,535 1551,497.5 1568.7,470 1586,460 1603.7,453.7 1621,456 1639,456"/>
<polyline points="-10,467.4 0,472.5 15,490 25,500 42.5,514.6 60,526.8 77.5,522.9 95,516.8 112.5,508.6 130,513.1 147.5,526 160,547.7 172,577.7 180,594.3 186,612.9 192,636.7 200,669.7 211.7,698.4 225,715.4 236.7,734.7 246.7,751.9 258.3,767.3 270,780.6 283.3,790.3 296.7,796.4 311.7,800.9 325,803.6 340,799.4 360,813.3 376.7,811.6 391.7,785 406.7,750 420,719.3 430,704.7 440,697.1 445,693 462,679.7 481,691.7 498,703.1 515,708.6 540,650 557.5,603.1 570,568.4 580,555.7 590,540 603,513 613,493.3 622.5,468.7 630,460.4 637.5,454.4 650,454.3 657.5,461.3 665,474.6 680,501.1 697.5,510.7 710,503.2 728.6,468.6 740,445.1 752.5,419.6 770,383.1 790,355.5 800,342.4 812.5,327.7 832.5,324.6 850,341.6 865,359.1 885,364.6 902.5,356.9 910,341 918.3,317.7 926.7,299.6 937.5,276.3 955,266.6 965,280.3 980,301.1 1000,331.4 1025,358.2 1042.5,383.6 1060,419.3 1077.5,448.6 1095,477.1 1112.5,497.6 1130,506.1 1145,505 1155,496.6 1163,479.1 1173,466.4 1183,454.6 1190,445.1 1200,435.3 1206.7,425.6 1223,414.4 1240,403 1256.7,398.3 1273,399.5 1282,407.4 1296.7,420.6 1305,425.7 1322.5,432.3 1340,432.5 1357.5,449.6 1375,468.2 1392.5,491.4 1411,517.1 1428.7,539.6 1446,558.9 1463.7,573.2 1481,580 1498.7,584.8 1516,578.2 1533.7,538.6 1551,502.1 1568.7,475.7 1586,465 1603.7,457.5 1621,458.7 1639,457.8"/>
<polyline points="-10,469.9 0,475 15,492.5 25,502.5 42.5,517.1 60,528.6 77.5,525.7 95,518.6 112.5,509.6 130,514.3 147.5,527 160,548.4 172,583.4 180,603.6 186,625.7 192,648.4 200,679.4 211.7,706.9 225,723.9 236.7,742.4 246.7,758.7 258.3,772.6 270,784.1 283.3,792.6 296.7,797.9 311.7,801.9 325,804.1 340,799.9 360,814.6 376.7,812.1 391.7,787 406.7,755 420,726.6 430,712.4 440,704.3 445,700 462,685.4 481,696.4 498,706.3 515,709.1 540,655 557.5,611.3 570,579.4 580,566.4 590,550 603,523 613,503.6 622.5,479.9 630,470.9 637.5,463.9 650,461.1 657.5,465.6 665,476.6 680,502.1 697.5,513.9 710,506.4 728.6,469.1 740,447.3 752.5,424.1 770,391.3 790,364.2 800,349.9 812.5,334.4 832.5,329.1 850,343.1 865,360.3 885,367.1 902.5,358.7 910,342 918.3,320.4 926.7,304.1 937.5,281.6 955,272.1 965,283.6 980,302.3 1000,335.4 1025,363.9 1042.5,392.1 1060,428.6 1077.5,457.1 1095,484.3 1112.5,502.6 1130,509.6 1145,507 1155,497.1 1163,481.3 1173,469.9 1183,459.1 1190,450.3 1200,440.6 1206.7,431.1 1223,418.9 1240,407 1256.7,401.1 1273,401 1282,407.9 1296.7,421.1 1305,426.4 1322.5,434.6 1340,435 1357.5,451.8 1375,471.4 1392.5,495.4 1411,521.8 1428.7,544.3 1446,562.9 1463.7,576.4 1481,582.5 1498.7,587.1 1516,578.9 1533.7,542.1 1551,506.8 1568.7,481.4 1586,470 1603.7,461.2 1621,461.4 1639,459.6"/>
<polyline points="-10,472.3 0,477.5 15,495 25,505 42.5,519.7 60,530.4 77.5,528.6 95,520.4 112.5,510.7 130,515.4 147.5,528 160,549.1 172,589.1 180,612.9 186,638.6 192,660.1 200,689.1 211.7,715.3 225,732.3 236.7,750.1 246.7,765.6 258.3,777.9 270,787.7 283.3,794.9 296.7,799.3 311.7,802.8 325,804.7 340,800.3 360,815.9 376.7,812.7 391.7,789 406.7,760 420,733.9 430,720.1 440,711.4 445,707 462,691.1 481,701.1 498,709.4 515,709.7 540,660 557.5,619.4 570,590.3 580,577.1 590,560 603,533 613,513.9 622.5,491.1 630,481.3 637.5,473.3 650,467.9 657.5,469.9 665,478.7 680,503.2 697.5,517.1 710,509.6 728.6,469.7 740,449.4 752.5,428.7 770,399.4 790,373 800,357.3 812.5,341.1 832.5,333.7 850,344.7 865,361.4 885,369.7 902.5,360.6 910,343 918.3,323.1 926.7,308.7 937.5,286.9 955,277.7 965,286.9 980,303.4 1000,339.3 1025,369.6 1042.5,400.7 1060,437.9 1077.5,465.7 1095,491.4 1112.5,507.7 1130,513.2 1145,509 1155,497.7 1163,483.4 1173,473.3 1183,463.7 1190,455.4 1200,445.9 1206.7,436.7 1223,423.3 1240,411 1256.7,403.9 1273,402.5 1282,408.3 1296.7,421.7 1305,427.1 1322.5,436.9 1340,437.5 1357.5,453.9 1375,474.6 1392.5,499.3 1411,526.4 1428.7,548.9 1446,566.8 1463.7,579.6 1481,585 1498.7,589.4 1516,579.6 1533.7,545.7 1551,511.4 1568.7,487.1 1586,475 1603.7,465 1621,464.1 1639,461.4"/>
<polyline points="-10,474.7 0,480 15,497.5 25,507.5 42.5,522.3 60,532.1 77.5,531.4 95,522.1 112.5,511.8 130,516.6 147.5,529 160,549.9 172,594.9 180,622.1 186,651.4 192,671.9 200,698.9 211.7,723.7 225,740.7 236.7,757.9 246.7,772.4 258.3,783.1 270,791.3 283.3,797.1 296.7,800.7 311.7,803.7 325,805.3 340,800.7 360,817.1 376.7,813.3 391.7,791 406.7,765 420,741.1 430,727.9 440,718.6 445,714 462,696.9 481,705.9 498,712.6 515,710.3 540,665 557.5,627.6 570,601.2 580,587.9 590,570 603,543 613,524.1 622.5,502.4 630,491.7 637.5,482.7 650,474.6 657.5,474.1 665,480.8 680,504.3 697.5,520.4 710,512.9 728.6,470.3 740,451.6 752.5,433.3 770,407.6 790,381.7 800,364.7 812.5,347.9 832.5,338.3 850,346.3 865,362.6 885,372.3 902.5,362.4 910,344 918.3,325.9 926.7,313.3 937.5,292.1 955,283.3 965,290.1 980,304.6 1000,343.2 1025,375.4 1042.5,409.3 1060,447.1 1077.5,474.3 1095,498.6 1112.5,512.8 1130,516.8 1145,511 1155,498.3 1163,485.6 1173,476.7 1183,468.3 1190,460.6 1200,451.1 1206.7,442.3 1223,427.7 1240,415 1256.7,406.6 1273,404 1282,408.7 1296.7,422.3 1305,427.9 1322.5,439.1 1340,440 1357.5,456.1 1375,477.9 1392.5,503.2 1411,531.1 1428.7,553.6 1446,570.7 1463.7,582.9 1481,587.5 1498.7,591.8 1516,580.4 1533.7,549.3 1551,516.1 1568.7,492.9 1586,480 1603.7,468.7 1621,466.9 1639,463.3"/>
<polyline points="-10,477.1 0,482.5 15,500 25,510 42.5,524.9 60,533.9 77.5,534.3 95,523.9 112.5,512.9 130,517.7 147.5,530 160,550.6 172,600.6 180,631.4 186,664.3 192,683.6 200,708.6 211.7,732.1 225,749.1 236.7,765.6 246.7,779.3 258.3,788.4 270,794.9 283.3,799.4 296.7,802.1 311.7,804.6 325,805.9 340,801.1 360,818.4 376.7,813.9 391.7,793 406.7,770 420,748.4 430,735.6 440,725.7 445,721 462,702.6 481,710.6 498,715.7 515,710.9 540,670 557.5,635.7 570,612.1 580,598.6 590,580 603,553 613,534.4 622.5,513.6 630,502.1 637.5,492.1 650,481.4 657.5,478.4 665,482.9 680,505.4 697.5,523.6 710,516.1 728.6,470.9 740,453.7 752.5,437.9 770,415.7 790,390.5 800,372.1 812.5,354.6 832.5,342.9 850,347.9 865,363.7 885,374.9 902.5,364.3 910,345 918.3,328.6 926.7,317.9 937.5,297.4 955,288.9 965,293.4 980,305.7 1000,347.1 1025,381.1 1042.5,417.9 1060,456.4 1077.5,482.9 1095,505.7 1112.5,517.9 1130,520.4 1145,513 1155,498.9 1163,487.7 1173,480.1 1183,472.9 1190,465.7 1200,456.4 1206.7,447.9 1223,432.1 1240,419 1256.7,409.4 1273,405.5 1282,409.1 1296.7,422.9 1305,428.6 1322.5,441.4 1340,442.5 1357.5,458.2 1375,481.1 1392.5,507.1 1411,535.7 1428.7,558.2 1446,574.6 1463.7,586.1 1481,590 1498.7,594.1 1516,581.1 1533.7,552.9 1551,520.7 1568.7,498.6 1586,485 1603.7,472.5 1621,469.6 1639,465.1"/>
<polyline points="-10,479.6 0,485 15,502.5 25,512.5 42.5,527.4 60,535.7 77.5,537.1 95,525.7 112.5,513.9 130,518.9 147.5,531 160,551.3 172,606.3 180,640.7 186,677.1 192,695.3 200,718.3 211.7,740.6 225,757.6 236.7,773.3 246.7,786.1 258.3,793.7 270,798.4 283.3,801.7 296.7,803.6 311.7,805.6 325,806.4 340,801.6 360,819.7 376.7,814.4 391.7,795 406.7,775 420,755.7 430,743.3 440,732.9 445,728 462,708.3 481,715.3 498,718.9 515,711.4 540,675 557.5,643.9 570,623.1 580,609.3 590,590 603,563 613,544.7 622.5,524.8 630,512.6 637.5,501.6 650,488.2 657.5,482.7 665,484.9 680,506.4 697.5,526.8 710,519.3 728.6,471.4 740,455.9 752.5,442.4 770,423.9 790,399.2 800,379.6 812.5,361.3 832.5,347.4 850,349.4 865,364.9 885,377.4 902.5,366.1 910,346 918.3,331.3 926.7,322.4 937.5,302.7 955,294.4 965,296.7 980,306.9 1000,351.1 1025,386.8 1042.5,426.4 1060,465.7 1077.5,491.4 1095,512.9 1112.5,522.9 1130,523.9 1145,515 1155,499.4 1163,489.9 1173,483.6 1183,477.4 1190,470.9 1200,461.7 1206.7,453.4 1223,436.6 1240,423 1256.7,412.2 1273,407 1282,409.6 1296.7,423.4 1305,429.3 1322.5,443.7 1340,445 1357.5,460.4 1375,484.3 1392.5,511.1 1411,540.4 1428.7,562.9 1446,578.6 1463.7,589.3 1481,592.5 1498.7,596.4 1516,581.8 1533.7,556.4 1551,525.4 1568.7,504.3 1586,490 1603.7,476.2 1621,472.3 1639,466.9"/>
<polyline points="-10,482 0,487.5 15,505 25,515 42.5,530 60,537.5 77.5,540 95,527.5 112.5,515 130,520 147.5,532 160,552 172,612 180,650 186,690 192,707 200,728 211.7,749 225,766 236.7,781 246.7,793 258.3,799 270,802 283.3,804 296.7,805 311.7,806.5 325,807 340,802 360,821 376.7,815 391.7,797 406.7,780 420,763 430,751 440,740 445,735 462,714 481,720 498,722 515,712 540,680 557.5,652 570,634 580,620 590,600 603,573 613,555 622.5,536 630,523 637.5,511 650,495 657.5,487 665,487 680,507.5 697.5,530 710,522.5 728.6,472 740,458 752.5,447 770,432 790,408 800,387 812.5,368 832.5,352 850,351 865,366 885,380 902.5,368 910,347 918.3,334 926.7,327 937.5,308 955,300 965,300 980,308 1000,355 1025,392.5 1042.5,435 1060,475 1077.5,500 1095,520 1112.5,528 1130,527.5 1145,517 1155,500 1163,492 1173,487 1183,482 1190,476 1200,467 1206.7,459 1223,441 1240,427 1256.7,415 1273,408.5 1282,410 1296.7,424 1305,430 1322.5,446 1340,447.5 1357.5,462.5 1375,487.5 1392.5,515 1411,545 1428.7,567.5 1446,582.5 1463.7,592.5 1481,595 1498.7,598.7 1516,582.5 1533.7,560 1551,530 1568.7,510 1586,495 1603.7,480 1621,475 1639,468.7"/>
</g>
<g fill="none" stroke="#dccdff" stroke-width="3" stroke-opacity="0.4" stroke-linejoin="round">
<polyline points="-10,384 0,385 10,390 25,412 40,427 60,438 77.5,444.5 95,443.5 110,441 122.5,422 131,408 140,425 150,440 165,460 175,475 187.5,500 200,520 217,560 235,600 242,615 253,645 267,668 276.7,688 286.7,705 300,722 311.7,734 323.3,743 336.7,747 358.3,749 370,731 383,704 391.7,686 396,678 404.5,640 412,622.6 420,608 430,600 443,602 455,604 465,606 498.7,635 522,588 550,530 587,453 603,405 613,372 626.7,333 637.5,310 655,303.7 665,330 690,375 702,370 715,352.5 740,320 765,282.5 790,245 810,217.5 850,227.5 865,257.5 885,263.7 897.5,245 910,215 930,177.5 945,168.7 955,170 972.5,192.5 985,220 997.5,238 1010,252.5 1030,282.5 1045,302.5 1060,340 1075,375 1095,415 1112.5,435 1130,450 1140,447 1155,425 1180,382.5 1205,350 1230,328.7 1255,331 1270,336 1287.5,347.5 1305,358.7 1322.5,360 1340,368 1357.5,376 1375,404 1392.5,427.5 1411,447.5 1428.7,469 1446,482.5 1463.7,500 1481,515 1498.7,517 1516,500 1533.7,475 1551,442.5 1568.7,430 1586,422.5 1603.7,417 1621,422.5 1639,424"/>
<polyline points="-10,385.1 0,386.3 10,391.4 25,415.6 40,431 60,441.9 77.5,447.6 95,445.7 110,442.6 122.5,424 131,408.9 140,426.9 150,441.4 165,460.9 175,477.9 187.5,509.3 200,535 217,574.3 235,611.9 242,626 253,654.6 267,677 276.7,695.7 286.7,711.6 300,727.4 311.7,738.4 323.3,746.6 336.7,749.3 358.3,750 370,733.1 383,708.1 391.7,690.9 396,682.9 404.5,647.1 412,629.4 420,615.3 430,607 443,608.1 455,608.8 465,609.9 498.7,637.9 522,591.1 550,537.1 587,463.6 603,416.7 613,384.1 626.7,345.9 637.5,321.9 655,309.6 665,334.6 690,377.1 702,372.1 715,353.6 740,321.4 765,285.7 790,249.3 810,222.5 850,229.6 865,260 885,267.1 897.5,247.9 910,216.4 930,181.8 945,173.5 955,174.7 972.5,194.7 985,220.7 997.5,239.7 1010,259.3 1030,292.1 1045,315 1060,351.9 1075,385.3 1095,421.9 1112.5,440 1130,452.6 1140,448.9 1155,426.1 1180,384.6 1205,353.2 1230,332.8 1255,333.4 1270,337.3 1287.5,348.9 1305,361 1322.5,362.3 1340,370.1 1357.5,378.6 1375,407.4 1392.5,431.1 1411,452.5 1428.7,476.3 1446,488.2 1463.7,503.9 1481,517.9 1498.7,518.9 1516,501.4 1533.7,477.1 1551,446.4 1568.7,434.4 1586,427.5 1603.7,422.1 1621,425.7 1639,425.2"/>
<polyline points="-10,386.3 0,387.6 10,392.9 25,419.1 40,435 60,445.7 77.5,450.6 95,447.9 110,444.1 122.5,426 131,409.7 140,428.7 150,442.9 165,461.7 175,480.7 187.5,518.6 200,550 217,588.6 235,623.7 242,637 253,664.1 267,686 276.7,703.4 286.7,718.1 300,732.9 311.7,742.9 323.3,750.1 336.7,751.6 358.3,751 370,735.3 383,712.3 391.7,695.7 396,687.7 404.5,654.3 412,636.1 420,622.6 430,614 443,614.3 455,613.6 465,613.7 498.7,640.7 522,594.3 550,544.3 587,474.1 603,428.4 613,396.3 626.7,358.7 637.5,333.7 655,315.5 665,339.3 690,379.3 702,374.3 715,354.6 740,322.9 765,288.9 790,253.6 810,227.5 850,231.8 865,262.5 885,270.5 897.5,250.7 910,217.9 930,186.1 945,178.4 955,179.4 972.5,196.9 985,221.4 997.5,241.4 1010,266.1 1030,301.8 1045,327.5 1060,363.7 1075,395.6 1095,428.7 1112.5,445 1130,455.1 1140,450.7 1155,427.1 1180,386.8 1205,356.4 1230,336.9 1255,335.7 1270,338.6 1287.5,350.4 1305,363.4 1322.5,364.6 1340,372.1 1357.5,381.1 1375,410.7 1392.5,434.6 1411,457.5 1428.7,483.6 1446,493.9 1463.7,507.9 1481,520.7 1498.7,520.7 1516,502.9 1533.7,479.3 1551,450.4 1568.7,438.9 1586,432.5 1603.7,427.1 1621,428.9 1639,426.4"/>
<polyline points="-10,387.4 0,388.9 10,394.3 25,422.7 40,439 60,449.6 77.5,453.7 95,450.1 110,445.7 122.5,428 131,410.6 140,430.6 150,444.3 165,462.6 175,483.6 187.5,527.9 200,565 217,602.9 235,635.6 242,648 253,673.7 267,695 276.7,711.1 286.7,724.7 300,738.3 311.7,747.3 323.3,753.7 336.7,753.9 358.3,752 370,737.4 383,716.4 391.7,700.6 396,692.6 404.5,661.4 412,642.9 420,629.9 430,621 443,620.4 455,618.4 465,617.6 498.7,643.6 522,597.4 550,551.4 587,484.7 603,440.1 613,408.4 626.7,371.6 637.5,345.6 655,321.4 665,343.9 690,381.4 702,376.4 715,355.7 740,324.3 765,292.1 790,257.9 810,232.5 850,233.9 865,265 885,273.9 897.5,253.6 910,219.3 930,190.4 945,183.2 955,184.1 972.5,199.1 985,222.1 997.5,243.1 1010,272.9 1030,311.4 1045,340 1060,375.6 1075,405.9 1095,435.6 1112.5,450 1130,457.7 1140,452.6 1155,428.2 1180,388.9 1205,359.6 1230,341 1255,338.1 1270,339.9 1287.5,351.8 1305,365.7 1322.5,366.9 1340,374.2 1357.5,383.7 1375,414.1 1392.5,438.2 1411,462.5 1428.7,490.9 1446,499.6 1463.7,511.8 1481,523.6 1498.7,522.6 1516,504.3 1533.7,481.4 1551,454.3 1568.7,443.3 1586,437.5 1603.7,432.2 1621,432.1 1639,427.6"/>
<polyline points="-10,388.6 0,390.1 10,395.7 25,426.3 40,443 60,453.4 77.5,456.8 95,452.4 110,447.3 122.5,430 131,411.4 140,432.4 150,445.7 165,463.4 175,486.4 187.5,537.1 200,580 217,617.1 235,647.4 242,659 253,683.3 267,704 276.7,718.9 286.7,731.3 300,743.7 311.7,751.7 323.3,757.3 336.7,756.1 358.3,753 370,739.6 383,720.6 391.7,705.4 396,697.4 404.5,668.6 412,649.7 420,637.1 430,628 443,626.6 455,623.1 465,621.4 498.7,646.4 522,600.6 550,558.6 587,495.3 603,451.9 613,420.6 626.7,384.4 637.5,357.4 655,327.3 665,348.6 690,383.6 702,378.6 715,356.8 740,325.7 765,295.4 790,262.1 810,237.5 850,236.1 865,267.5 885,277.3 897.5,256.4 910,220.7 930,194.6 945,188 955,188.9 972.5,201.4 985,222.9 997.5,244.9 1010,279.6 1030,321.1 1045,352.5 1060,387.4 1075,416.1 1095,442.4 1112.5,455 1130,460.3 1140,454.4 1155,429.3 1180,391.1 1205,362.9 1230,345.2 1255,340.4 1270,341.1 1287.5,353.2 1305,368 1322.5,369.1 1340,376.3 1357.5,386.3 1375,417.4 1392.5,441.8 1411,467.5 1428.7,498.1 1446,505.4 1463.7,515.7 1481,526.4 1498.7,524.4 1516,505.7 1533.7,483.6 1551,458.2 1568.7,447.7 1586,442.5 1603.7,437.3 1621,435.4 1639,428.9"/>
<polyline points="-10,389.7 0,391.4 10,397.1 25,429.9 40,447 60,457.3 77.5,459.9 95,454.6 110,448.9 122.5,432 131,412.3 140,434.3 150,447.1 165,464.3 175,489.3 187.5,546.4 200,595 217,631.4 235,659.3 242,670 253,692.9 267,713 276.7,726.6 286.7,737.9 300,749.1 311.7,756.1 323.3,760.9 336.7,758.4 358.3,754 370,741.7 383,724.7 391.7,710.3 396,702.3 404.5,675.7 412,656.5 420,644.4 430,635 443,632.7 455,627.9 465,625.3 498.7,649.3 522,603.7 550,565.7 587,505.9 603,463.6 613,432.7 626.7,397.3 637.5,369.3 655,333.2 665,353.2 690,385.7 702,380.7 715,357.9 740,327.1 765,298.6 790,266.4 810,242.5 850,238.2 865,270 885,280.7 897.5,259.3 910,222.1 930,198.9 945,192.8 955,193.6 972.5,203.6 985,223.6 997.5,246.6 1010,286.4 1030,330.7 1045,365 1060,399.3 1075,426.4 1095,449.3 1112.5,460 1130,462.9 1140,456.3 1155,430.4 1180,393.2 1205,366.1 1230,349.3 1255,342.8 1270,342.4 1287.5,354.6 1305,370.3 1322.5,371.4 1340,378.4 1357.5,388.9 1375,420.8 1392.5,445.4 1411,472.5 1428.7,505.4 1446,511.1 1463.7,519.6 1481,529.3 1498.7,526.3 1516,507.1 1533.7,485.7 1551,462.1 1568.7,452.1 1586,447.5 1603.7,442.4 1621,438.6 1639,430.1"/>
<polyline points="-10,390.9 0,392.7 10,398.6 25,433.4 40,451 60,461.1 77.5,462.9 95,456.8 110,450.4 122.5,434 131,413.1 140,436.1 150,448.6 165,465.1 175,492.1 187.5,555.7 200,610 217,645.7 235,671.1 242,681 253,702.4 267,722 276.7,734.3 286.7,744.4 300,754.6 311.7,760.6 323.3,764.4 336.7,760.7 358.3,755 370,743.9 383,728.9 391.7,715.1 396,707.1 404.5,682.9 412,663.2 420,651.7 430,642 443,638.9 455,632.7 465,629.1 498.7,652.1 522,606.9 550,572.9 587,516.4 603,475.3 613,444.9 626.7,410.1 637.5,381.1 655,339.1 665,357.9 690,387.9 702,382.9 715,358.9 740,328.6 765,301.8 790,270.7 810,247.5 850,240.4 865,272.5 885,284.1 897.5,262.1 910,223.6 930,203.2 945,197.7 955,198.3 972.5,205.8 985,224.3 997.5,248.3 1010,293.2 1030,340.4 1045,377.5 1060,411.1 1075,436.7 1095,456.1 1112.5,465 1130,465.4 1140,458.1 1155,431.4 1180,395.4 1205,369.3 1230,353.4 1255,345.1 1270,343.7 1287.5,356.1 1305,372.7 1322.5,373.7 1340,380.4 1357.5,391.4 1375,424.1 1392.5,448.9 1411,477.5 1428.7,512.7 1446,516.8 1463.7,523.6 1481,532.1 1498.7,528.1 1516,508.6 1533.7,487.9 1551,466.1 1568.7,456.6 1586,452.5 1603.7,447.4 1621,441.8 1639,431.3"/>
<polyline points="-10,392 0,394 10,400 25,437 40,455 60,465 77.5,466 95,459 110,452 122.5,436 131,414 140,438 150,450 165,466 175,495 187.5,565 200,625 217,660 235,683 242,692 253,712 267,731 276.7,742 286.7,751 300,760 311.7,765 323.3,768 336.7,763 358.3,756 370,746 383,733 391.7,720 396,712 404.5,690 412,670 420,659 430,649 443,645 455,637.5 465,633 498.7,655 522,610 550,580 587,527 603,487 613,457 626.7,423 637.5,393 655,345 665,362.5 690,390 702,385 715,360 740,330 765,305 790,275 810,252.5 850,242.5 865,275 885,287.5 897.5,265 910,225 930,207.5 945,202.5 955,203 972.5,208 985,225 997.5,250 1010,300 1030,350 1045,390 1060,423 1075,447 1095,463 1112.5,470 1130,468 1140,460 1155,432.5 1180,397.5 1205,372.5 1230,357.5 1255,347.5 1270,345 1287.5,357.5 1305,375 1322.5,376 1340,382.5 1357.5,394 1375,427.5 1392.5,452.5 1411,482.5 1428.7,520 1446,522.5 1463.7,527.5 1481,535 1498.7,530 1516,510 1533.7,490 1551,470 1568.7,461 1586,457.5 1603.7,452.5 1621,445 1639,432.5"/>
</g>
<g fill="none" stroke="#684ab0" stroke-width="1.3" stroke-opacity="0.92" stroke-linejoin="round">
<polyline points="-10,384 0,385 10,390 25,412 40,427 60,438 77.5,444.5 95,443.5 110,441 122.5,422 131,408 140,425 150,440 165,460 175,475 187.5,500 200,520 217,560 235,600 242,615 253,645 267,668 276.7,688 286.7,705 300,722 311.7,734 323.3,743 336.7,747 358.3,749 370,731 383,704 391.7,686 396,678 404.5,640 412,622.6 420,608 430,600 443,602 455,604 465,606 498.7,635 522,588 550,530 587,453 603,405 613,372 626.7,333 637.5,310 655,303.7 665,330 690,375 702,370 715,352.5 740,320 765,282.5 790,245 810,217.5 850,227.5 865,257.5 885,263.7 897.5,245 910,215 930,177.5 945,168.7 955,170 972.5,192.5 985,220 997.5,238 1010,252.5 1030,282.5 1045,302.5 1060,340 1075,375 1095,415 1112.5,435 1130,450 1140,447 1155,425 1180,382.5 1205,350 1230,328.7 1255,331 1270,336 1287.5,347.5 1305,358.7 1322.5,360 1340,368 1357.5,376 1375,404 1392.5,427.5 1411,447.5 1428.7,469 1446,482.5 1463.7,500 1481,515 1498.7,517 1516,500 1533.7,475 1551,442.5 1568.7,430 1586,422.5 1603.7,417 1621,422.5 1639,424"/>
<polyline points="-10,385.1 0,386.3 10,391.4 25,415.6 40,431 60,441.9 77.5,447.6 95,445.7 110,442.6 122.5,424 131,408.9 140,426.9 150,441.4 165,460.9 175,477.9 187.5,509.3 200,535 217,574.3 235,611.9 242,626 253,654.6 267,677 276.7,695.7 286.7,711.6 300,727.4 311.7,738.4 323.3,746.6 336.7,749.3 358.3,750 370,733.1 383,708.1 391.7,690.9 396,682.9 404.5,647.1 412,629.4 420,615.3 430,607 443,608.1 455,608.8 465,609.9 498.7,637.9 522,591.1 550,537.1 587,463.6 603,416.7 613,384.1 626.7,345.9 637.5,321.9 655,309.6 665,334.6 690,377.1 702,372.1 715,353.6 740,321.4 765,285.7 790,249.3 810,222.5 850,229.6 865,260 885,267.1 897.5,247.9 910,216.4 930,181.8 945,173.5 955,174.7 972.5,194.7 985,220.7 997.5,239.7 1010,259.3 1030,292.1 1045,315 1060,351.9 1075,385.3 1095,421.9 1112.5,440 1130,452.6 1140,448.9 1155,426.1 1180,384.6 1205,353.2 1230,332.8 1255,333.4 1270,337.3 1287.5,348.9 1305,361 1322.5,362.3 1340,370.1 1357.5,378.6 1375,407.4 1392.5,431.1 1411,452.5 1428.7,476.3 1446,488.2 1463.7,503.9 1481,517.9 1498.7,518.9 1516,501.4 1533.7,477.1 1551,446.4 1568.7,434.4 1586,427.5 1603.7,422.1 1621,425.7 1639,425.2"/>
<polyline points="-10,386.3 0,387.6 10,392.9 25,419.1 40,435 60,445.7 77.5,450.6 95,447.9 110,444.1 122.5,426 131,409.7 140,428.7 150,442.9 165,461.7 175,480.7 187.5,518.6 200,550 217,588.6 235,623.7 242,637 253,664.1 267,686 276.7,703.4 286.7,718.1 300,732.9 311.7,742.9 323.3,750.1 336.7,751.6 358.3,751 370,735.3 383,712.3 391.7,695.7 396,687.7 404.5,654.3 412,636.1 420,622.6 430,614 443,614.3 455,613.6 465,613.7 498.7,640.7 522,594.3 550,544.3 587,474.1 603,428.4 613,396.3 626.7,358.7 637.5,333.7 655,315.5 665,339.3 690,379.3 702,374.3 715,354.6 740,322.9 765,288.9 790,253.6 810,227.5 850,231.8 865,262.5 885,270.5 897.5,250.7 910,217.9 930,186.1 945,178.4 955,179.4 972.5,196.9 985,221.4 997.5,241.4 1010,266.1 1030,301.8 1045,327.5 1060,363.7 1075,395.6 1095,428.7 1112.5,445 1130,455.1 1140,450.7 1155,427.1 1180,386.8 1205,356.4 1230,336.9 1255,335.7 1270,338.6 1287.5,350.4 1305,363.4 1322.5,364.6 1340,372.1 1357.5,381.1 1375,410.7 1392.5,434.6 1411,457.5 1428.7,483.6 1446,493.9 1463.7,507.9 1481,520.7 1498.7,520.7 1516,502.9 1533.7,479.3 1551,450.4 1568.7,438.9 1586,432.5 1603.7,427.1 1621,428.9 1639,426.4"/>
<polyline points="-10,387.4 0,388.9 10,394.3 25,422.7 40,439 60,449.6 77.5,453.7 95,450.1 110,445.7 122.5,428 131,410.6 140,430.6 150,444.3 165,462.6 175,483.6 187.5,527.9 200,565 217,602.9 235,635.6 242,648 253,673.7 267,695 276.7,711.1 286.7,724.7 300,738.3 311.7,747.3 323.3,753.7 336.7,753.9 358.3,752 370,737.4 383,716.4 391.7,700.6 396,692.6 404.5,661.4 412,642.9 420,629.9 430,621 443,620.4 455,618.4 465,617.6 498.7,643.6 522,597.4 550,551.4 587,484.7 603,440.1 613,408.4 626.7,371.6 637.5,345.6 655,321.4 665,343.9 690,381.4 702,376.4 715,355.7 740,324.3 765,292.1 790,257.9 810,232.5 850,233.9 865,265 885,273.9 897.5,253.6 910,219.3 930,190.4 945,183.2 955,184.1 972.5,199.1 985,222.1 997.5,243.1 1010,272.9 1030,311.4 1045,340 1060,375.6 1075,405.9 1095,435.6 1112.5,450 1130,457.7 1140,452.6 1155,428.2 1180,388.9 1205,359.6 1230,341 1255,338.1 1270,339.9 1287.5,351.8 1305,365.7 1322.5,366.9 1340,374.2 1357.5,383.7 1375,414.1 1392.5,438.2 1411,462.5 1428.7,490.9 1446,499.6 1463.7,511.8 1481,523.6 1498.7,522.6 1516,504.3 1533.7,481.4 1551,454.3 1568.7,443.3 1586,437.5 1603.7,432.2 1621,432.1 1639,427.6"/>
<polyline points="-10,388.6 0,390.1 10,395.7 25,426.3 40,443 60,453.4 77.5,456.8 95,452.4 110,447.3 122.5,430 131,411.4 140,432.4 150,445.7 165,463.4 175,486.4 187.5,537.1 200,580 217,617.1 235,647.4 242,659 253,683.3 267,704 276.7,718.9 286.7,731.3 300,743.7 311.7,751.7 323.3,757.3 336.7,756.1 358.3,753 370,739.6 383,720.6 391.7,705.4 396,697.4 404.5,668.6 412,649.7 420,637.1 430,628 443,626.6 455,623.1 465,621.4 498.7,646.4 522,600.6 550,558.6 587,495.3 603,451.9 613,420.6 626.7,384.4 637.5,357.4 655,327.3 665,348.6 690,383.6 702,378.6 715,356.8 740,325.7 765,295.4 790,262.1 810,237.5 850,236.1 865,267.5 885,277.3 897.5,256.4 910,220.7 930,194.6 945,188 955,188.9 972.5,201.4 985,222.9 997.5,244.9 1010,279.6 1030,321.1 1045,352.5 1060,387.4 1075,416.1 1095,442.4 1112.5,455 1130,460.3 1140,454.4 1155,429.3 1180,391.1 1205,362.9 1230,345.2 1255,340.4 1270,341.1 1287.5,353.2 1305,368 1322.5,369.1 1340,376.3 1357.5,386.3 1375,417.4 1392.5,441.8 1411,467.5 1428.7,498.1 1446,505.4 1463.7,515.7 1481,526.4 1498.7,524.4 1516,505.7 1533.7,483.6 1551,458.2 1568.7,447.7 1586,442.5 1603.7,437.3 1621,435.4 1639,428.9"/>
<polyline points="-10,389.7 0,391.4 10,397.1 25,429.9 40,447 60,457.3 77.5,459.9 95,454.6 110,448.9 122.5,432 131,412.3 140,434.3 150,447.1 165,464.3 175,489.3 187.5,546.4 200,595 217,631.4 235,659.3 242,670 253,692.9 267,713 276.7,726.6 286.7,737.9 300,749.1 311.7,756.1 323.3,760.9 336.7,758.4 358.3,754 370,741.7 383,724.7 391.7,710.3 396,702.3 404.5,675.7 412,656.5 420,644.4 430,635 443,632.7 455,627.9 465,625.3 498.7,649.3 522,603.7 550,565.7 587,505.9 603,463.6 613,432.7 626.7,397.3 637.5,369.3 655,333.2 665,353.2 690,385.7 702,380.7 715,357.9 740,327.1 765,298.6 790,266.4 810,242.5 850,238.2 865,270 885,280.7 897.5,259.3 910,222.1 930,198.9 945,192.8 955,193.6 972.5,203.6 985,223.6 997.5,246.6 1010,286.4 1030,330.7 1045,365 1060,399.3 1075,426.4 1095,449.3 1112.5,460 1130,462.9 1140,456.3 1155,430.4 1180,393.2 1205,366.1 1230,349.3 1255,342.8 1270,342.4 1287.5,354.6 1305,370.3 1322.5,371.4 1340,378.4 1357.5,388.9 1375,420.8 1392.5,445.4 1411,472.5 1428.7,505.4 1446,511.1 1463.7,519.6 1481,529.3 1498.7,526.3 1516,507.1 1533.7,485.7 1551,462.1 1568.7,452.1 1586,447.5 1603.7,442.4 1621,438.6 1639,430.1"/>
<polyline points="-10,390.9 0,392.7 10,398.6 25,433.4 40,451 60,461.1 77.5,462.9 95,456.8 110,450.4 122.5,434 131,413.1 140,436.1 150,448.6 165,465.1 175,492.1 187.5,555.7 200,610 217,645.7 235,671.1 242,681 253,702.4 267,722 276.7,734.3 286.7,744.4 300,754.6 311.7,760.6 323.3,764.4 336.7,760.7 358.3,755 370,743.9 383,728.9 391.7,715.1 396,707.1 404.5,682.9 412,663.2 420,651.7 430,642 443,638.9 455,632.7 465,629.1 498.7,652.1 522,606.9 550,572.9 587,516.4 603,475.3 613,444.9 626.7,410.1 637.5,381.1 655,339.1 665,357.9 690,387.9 702,382.9 715,358.9 740,328.6 765,301.8 790,270.7 810,247.5 850,240.4 865,272.5 885,284.1 897.5,262.1 910,223.6 930,203.2 945,197.7 955,198.3 972.5,205.8 985,224.3 997.5,248.3 1010,293.2 1030,340.4 1045,377.5 1060,411.1 1075,436.7 1095,456.1 1112.5,465 1130,465.4 1140,458.1 1155,431.4 1180,395.4 1205,369.3 1230,353.4 1255,345.1 1270,343.7 1287.5,356.1 1305,372.7 1322.5,373.7 1340,380.4 1357.5,391.4 1375,424.1 1392.5,448.9 1411,477.5 1428.7,512.7 1446,516.8 1463.7,523.6 1481,532.1 1498.7,528.1 1516,508.6 1533.7,487.9 1551,466.1 1568.7,456.6 1586,452.5 1603.7,447.4 1621,441.8 1639,431.3"/>
<polyline points="-10,392 0,394 10,400 25,437 40,455 60,465 77.5,466 95,459 110,452 122.5,436 131,414 140,438 150,450 165,466 175,495 187.5,565 200,625 217,660 235,683 242,692 253,712 267,731 276.7,742 286.7,751 300,760 311.7,765 323.3,768 336.7,763 358.3,756 370,746 383,733 391.7,720 396,712 404.5,690 412,670 420,659 430,649 443,645 455,637.5 465,633 498.7,655 522,610 550,580 587,527 603,487 613,457 626.7,423 637.5,393 655,345 665,362.5 690,390 702,385 715,360 740,330 765,305 790,275 810,252.5 850,242.5 865,275 885,287.5 897.5,265 910,225 930,207.5 945,202.5 955,203 972.5,208 985,225 997.5,250 1010,300 1030,350 1045,390 1060,423 1075,447 1095,463 1112.5,470 1130,468 1140,460 1155,432.5 1180,397.5 1205,372.5 1230,357.5 1255,347.5 1270,345 1287.5,357.5 1305,375 1322.5,376 1340,382.5 1357.5,394 1375,427.5 1392.5,452.5 1411,482.5 1428.7,520 1446,522.5 1463.7,527.5 1481,535 1498.7,530 1516,510 1533.7,490 1551,470 1568.7,461 1586,457.5 1603.7,452.5 1621,445 1639,432.5"/>
</g>
<polyline points="-10,579 0,577.5 45,572.5 77.5,565 112.5,556 145,554.5 160,557.5 175,565 200,576 225,584 275,602.5 320,620 360,635 375,637.5 400,637 440,638.7 479,644 497.5,645 522.5,640 587.5,620 640,590 665,583.7 700,576 745,552.5 785,525 832.5,498.7 865,490 885,482.5 905,470 930,450 955,438.7 980,434 1005,431.7 1025,430.7 1042.5,432.5 1070,438.7 1092.5,442.5 1130,444.5 1155,442.5 1180,438.7 1205,435 1230,430.5 1255,428 1287.5,427.5 1317.5,428.7 1350,428.7 1375,435 1400,442.5 1425,448.7 1450,453.7 1475,460.5 1500,463.7 1525,462.5 1550,461 1575,460 1600,458.7 1622.5,458 1639,457" fill="none" stroke="#1c1c22" stroke-width="1.4" stroke-opacity="0.85" stroke-linejoin="round"/>
<g shape-rendering="crispEdges">
<rect x="8" y="414" width="1" height="121" fill="#000"/>
<rect x="2" y="447" width="13" height="88" fill="#000"/>
<rect x="25" y="496" width="1" height="51" fill="#000"/>
<rect x="19" y="515" width="13" height="20" fill="#000"/>
<rect x="20" y="516" width="11" height="18" fill="#fff"/>
<rect x="43" y="489" width="1" height="57" fill="#000"/>
<rect x="37" y="515" width="13" height="21" fill="#000"/>
<rect x="60" y="466" width="1" height="67" fill="#000"/>
<rect x="54" y="500" width="13" height="33" fill="#000"/>
<rect x="55" y="501" width="11" height="31" fill="#fff"/>
<rect x="78" y="459" width="1" height="89" fill="#000"/>
<rect x="72" y="459" width="13" height="46" fill="#000"/>
<rect x="73" y="460" width="11" height="44" fill="#fff"/>
<rect x="96" y="421" width="1" height="61" fill="#000"/>
<rect x="90" y="459" width="13" height="14" fill="#000"/>
<rect x="113" y="419" width="1" height="67" fill="#000"/>
<rect x="107" y="421" width="13" height="52" fill="#000"/>
<rect x="108" y="422" width="11" height="50" fill="#fff"/>
<rect x="131" y="361" width="1" height="178" fill="#000"/>
<rect x="125" y="420" width="13" height="113" fill="#000"/>
<rect x="148" y="511" width="1" height="41" fill="#000"/>
<rect x="142" y="534" width="13" height="1" fill="#000"/>
<rect x="166" y="531" width="1" height="149" fill="#000"/>
<rect x="160" y="534" width="13" height="135" fill="#000"/>
<rect x="183" y="668" width="1" height="138" fill="#000"/>
<rect x="177" y="668" width="13" height="130" fill="#000"/>
<rect x="201" y="732" width="1" height="66" fill="#000"/>
<rect x="195" y="772" width="13" height="26" fill="#000"/>
<rect x="196" y="773" width="11" height="24" fill="#fff"/>
<rect x="218" y="681" width="1" height="100" fill="#000"/>
<rect x="212" y="704" width="13" height="72" fill="#000"/>
<rect x="213" y="705" width="11" height="70" fill="#fff"/>
<rect x="236" y="684" width="1" height="72" fill="#000"/>
<rect x="230" y="705" width="13" height="51" fill="#000"/>
<rect x="253" y="757" width="1" height="74" fill="#000"/>
<rect x="247" y="757" width="13" height="51" fill="#000"/>
<rect x="271" y="772" width="1" height="41" fill="#000"/>
<rect x="265" y="776" width="13" height="33" fill="#000"/>
<rect x="266" y="777" width="11" height="31" fill="#fff"/>
<rect x="288" y="774" width="1" height="28" fill="#000"/>
<rect x="282" y="777" width="13" height="1" fill="#000"/>
<rect x="306" y="777" width="1" height="27" fill="#000"/>
<rect x="300" y="778" width="13" height="16" fill="#000"/>
<rect x="324" y="760" width="1" height="44" fill="#000"/>
<rect x="318" y="789" width="13" height="4" fill="#000"/>
<rect x="319" y="790" width="11" height="2" fill="#fff"/>
<rect x="341" y="716" width="1" height="74" fill="#000"/>
<rect x="335" y="758" width="13" height="32" fill="#000"/>
<rect x="336" y="759" width="11" height="30" fill="#fff"/>
<rect x="359" y="755" width="1" height="114" fill="#000"/>
<rect x="353" y="758" width="13" height="12" fill="#000"/>
<rect x="376" y="673" width="1" height="126" fill="#000"/>
<rect x="370" y="685" width="13" height="88" fill="#000"/>
<rect x="371" y="686" width="11" height="86" fill="#fff"/>
<rect x="394" y="625" width="1" height="69" fill="#000"/>
<rect x="388" y="625" width="13" height="57" fill="#000"/>
<rect x="389" y="626" width="11" height="55" fill="#fff"/>
<rect x="411" y="537" width="1" height="125" fill="#000"/>
<rect x="405" y="626" width="13" height="25" fill="#000"/>
<rect x="429" y="574" width="1" height="90" fill="#000"/>
<rect x="423" y="650" width="13" height="9" fill="#000"/>
<rect x="446" y="649" width="1" height="38" fill="#000"/>
<rect x="440" y="657" width="13" height="5" fill="#000"/>
<rect x="464" y="614" width="1" height="61" fill="#000"/>
<rect x="458" y="661" width="13" height="9" fill="#000"/>
<rect x="481" y="656" width="1" height="85" fill="#000"/>
<rect x="475" y="669" width="13" height="72" fill="#000"/>
<rect x="499" y="700" width="1" height="41" fill="#000"/>
<rect x="493" y="700" width="13" height="41" fill="#000"/>
<rect x="494" y="701" width="11" height="39" fill="#fff"/>
<rect x="516" y="548" width="1" height="162" fill="#000"/>
<rect x="510" y="548" width="13" height="151" fill="#000"/>
<rect x="511" y="549" width="11" height="149" fill="#fff"/>
<rect x="534" y="486" width="1" height="64" fill="#000"/>
<rect x="528" y="520" width="13" height="30" fill="#000"/>
<rect x="529" y="521" width="11" height="28" fill="#fff"/>
<rect x="551" y="464" width="1" height="58" fill="#000"/>
<rect x="545" y="496" width="13" height="26" fill="#000"/>
<rect x="546" y="497" width="11" height="24" fill="#fff"/>
<rect x="569" y="464" width="1" height="30" fill="#000"/>
<rect x="563" y="481" width="13" height="13" fill="#000"/>
<rect x="564" y="482" width="11" height="11" fill="#fff"/>
<rect x="587" y="464" width="1" height="51" fill="#000"/>
<rect x="581" y="480" width="13" height="6" fill="#000"/>
<rect x="604" y="310" width="1" height="176" fill="#000"/>
<rect x="598" y="340" width="13" height="146" fill="#000"/>
<rect x="599" y="341" width="11" height="144" fill="#fff"/>
<rect x="622" y="306" width="1" height="70" fill="#000"/>
<rect x="616" y="337" width="13" height="39" fill="#000"/>
<rect x="639" y="215" width="1" height="224" fill="#000"/>
<rect x="633" y="356" width="13" height="20" fill="#000"/>
<rect x="634" y="357" width="11" height="18" fill="#fff"/>
<rect x="657" y="338" width="1" height="133" fill="#000"/>
<rect x="651" y="358" width="13" height="113" fill="#000"/>
<rect x="674" y="472" width="1" height="133" fill="#000"/>
<rect x="668" y="472" width="13" height="124" fill="#000"/>
<rect x="692" y="442" width="1" height="158" fill="#000"/>
<rect x="686" y="453" width="13" height="147" fill="#000"/>
<rect x="687" y="454" width="11" height="145" fill="#fff"/>
<rect x="709" y="324" width="1" height="132" fill="#000"/>
<rect x="703" y="329" width="13" height="127" fill="#000"/>
<rect x="704" y="330" width="11" height="125" fill="#fff"/>
<rect x="727" y="246" width="1" height="105" fill="#000"/>
<rect x="721" y="308" width="13" height="24" fill="#000"/>
<rect x="722" y="309" width="11" height="22" fill="#fff"/>
<rect x="744" y="276" width="1" height="76" fill="#000"/>
<rect x="738" y="308" width="13" height="44" fill="#000"/>
<rect x="762" y="270" width="1" height="103" fill="#000"/>
<rect x="756" y="270" width="13" height="82" fill="#000"/>
<rect x="757" y="271" width="11" height="80" fill="#fff"/>
<rect x="779" y="211" width="1" height="138" fill="#000"/>
<rect x="773" y="211" width="13" height="60" fill="#000"/>
<rect x="774" y="212" width="11" height="58" fill="#fff"/>
<rect x="797" y="196" width="1" height="108" fill="#000"/>
<rect x="791" y="211" width="13" height="81" fill="#000"/>
<rect x="815" y="203" width="1" height="89" fill="#000"/>
<rect x="809" y="259" width="13" height="33" fill="#000"/>
<rect x="810" y="260" width="11" height="31" fill="#fff"/>
<rect x="832" y="246" width="1" height="87" fill="#000"/>
<rect x="826" y="256" width="13" height="7" fill="#000"/>
<rect x="827" y="257" width="11" height="5" fill="#fff"/>
<rect x="850" y="239" width="1" height="143" fill="#000"/>
<rect x="844" y="256" width="13" height="116" fill="#000"/>
<rect x="867" y="370" width="1" height="42" fill="#000"/>
<rect x="861" y="375" width="13" height="7" fill="#000"/>
<rect x="885" y="287" width="1" height="118" fill="#000"/>
<rect x="879" y="318" width="13" height="64" fill="#000"/>
<rect x="880" y="319" width="11" height="62" fill="#fff"/>
<rect x="902" y="124" width="1" height="195" fill="#000"/>
<rect x="896" y="138" width="13" height="181" fill="#000"/>
<rect x="897" y="139" width="11" height="179" fill="#fff"/>
<rect x="920" y="101" width="1" height="95" fill="#000"/>
<rect x="914" y="129" width="13" height="33" fill="#000"/>
<rect x="937" y="160" width="1" height="67" fill="#000"/>
<rect x="931" y="162" width="13" height="65" fill="#000"/>
<rect x="955" y="215" width="1" height="59" fill="#000"/>
<rect x="949" y="225" width="13" height="25" fill="#000"/>
<rect x="972" y="249" width="1" height="107" fill="#000"/>
<rect x="966" y="249" width="13" height="77" fill="#000"/>
<rect x="990" y="317" width="1" height="100" fill="#000"/>
<rect x="984" y="324" width="13" height="61" fill="#000"/>
<rect x="1007" y="357" width="1" height="34" fill="#000"/>
<rect x="1001" y="384" width="13" height="7" fill="#000"/>
<rect x="1025" y="373" width="1" height="48" fill="#000"/>
<rect x="1019" y="390" width="13" height="13" fill="#000"/>
<rect x="1043" y="401" width="1" height="85" fill="#000"/>
<rect x="1037" y="401" width="13" height="85" fill="#000"/>
<rect x="1060" y="485" width="1" height="39" fill="#000"/>
<rect x="1054" y="485" width="13" height="28" fill="#000"/>
<rect x="1078" y="505" width="1" height="50" fill="#000"/>
<rect x="1072" y="512" width="13" height="18" fill="#000"/>
<rect x="1095" y="490" width="1" height="40" fill="#000"/>
<rect x="1089" y="524" width="13" height="6" fill="#000"/>
<rect x="1090" y="525" width="11" height="4" fill="#fff"/>
<rect x="1113" y="444" width="1" height="81" fill="#000"/>
<rect x="1107" y="475" width="13" height="50" fill="#000"/>
<rect x="1108" y="476" width="11" height="48" fill="#fff"/>
<rect x="1130" y="471" width="1" height="49" fill="#000"/>
<rect x="1124" y="471" width="13" height="5" fill="#000"/>
<rect x="1125" y="472" width="11" height="3" fill="#fff"/>
<rect x="1148" y="355" width="1" height="117" fill="#000"/>
<rect x="1142" y="369" width="13" height="103" fill="#000"/>
<rect x="1143" y="370" width="11" height="101" fill="#fff"/>
<rect x="1165" y="352" width="1" height="71" fill="#000"/>
<rect x="1159" y="368" width="13" height="55" fill="#000"/>
<rect x="1183" y="352" width="1" height="92" fill="#000"/>
<rect x="1177" y="363" width="13" height="60" fill="#000"/>
<rect x="1178" y="364" width="11" height="58" fill="#fff"/>
<rect x="1200" y="335" width="1" height="78" fill="#000"/>
<rect x="1194" y="363" width="13" height="50" fill="#000"/>
<rect x="1218" y="318" width="1" height="101" fill="#000"/>
<rect x="1212" y="329" width="13" height="83" fill="#000"/>
<rect x="1213" y="330" width="11" height="81" fill="#fff"/>
<rect x="1235" y="316" width="1" height="58" fill="#000"/>
<rect x="1229" y="329" width="13" height="42" fill="#000"/>
<rect x="1253" y="350" width="1" height="35" fill="#000"/>
<rect x="1247" y="369" width="13" height="13" fill="#000"/>
<rect x="1271" y="346" width="1" height="62" fill="#000"/>
<rect x="1265" y="381" width="13" height="27" fill="#000"/>
<rect x="1288" y="379" width="1" height="60" fill="#000"/>
<rect x="1282" y="407" width="13" height="11" fill="#000"/>
<rect x="1306" y="416" width="1" height="70" fill="#000"/>
<rect x="1300" y="416" width="13" height="51" fill="#000"/>
<rect x="1323" y="364" width="1" height="102" fill="#000"/>
<rect x="1317" y="404" width="13" height="62" fill="#000"/>
<rect x="1318" y="405" width="11" height="60" fill="#fff"/>
<rect x="1341" y="387" width="1" height="31" fill="#000"/>
<rect x="1335" y="404" width="13" height="12" fill="#000"/>
<rect x="1358" y="409" width="1" height="93" fill="#000"/>
<rect x="1352" y="417" width="13" height="85" fill="#000"/>
<rect x="1376" y="474" width="1" height="57" fill="#000"/>
<rect x="1370" y="500" width="13" height="20" fill="#000"/>
<rect x="1393" y="499" width="1" height="59" fill="#000"/>
<rect x="1387" y="519" width="13" height="39" fill="#000"/>
<rect x="1411" y="545" width="1" height="58" fill="#000"/>
<rect x="1405" y="557" width="13" height="28" fill="#000"/>
<rect x="1428" y="557" width="1" height="28" fill="#000"/>
<rect x="1422" y="578" width="13" height="7" fill="#000"/>
<rect x="1423" y="579" width="11" height="5" fill="#fff"/>
<rect x="1446" y="502" width="1" height="86" fill="#000"/>
<rect x="1440" y="523" width="13" height="55" fill="#000"/>
<rect x="1441" y="524" width="11" height="53" fill="#fff"/>
<rect x="1463" y="516" width="1" height="78" fill="#000"/>
<rect x="1457" y="522" width="13" height="72" fill="#000"/>
<rect x="1481" y="560" width="1" height="47" fill="#000"/>
<rect x="1475" y="563" width="13" height="31" fill="#000"/>
<rect x="1476" y="564" width="11" height="29" fill="#fff"/>
<rect x="1498" y="512" width="1" height="92" fill="#000"/>
<rect x="1492" y="512" width="13" height="55" fill="#000"/>
<rect x="1493" y="513" width="11" height="53" fill="#fff"/>
<rect x="1516" y="449" width="1" height="85" fill="#000"/>
<rect x="1510" y="449" width="13" height="64" fill="#000"/>
<rect x="1511" y="450" width="11" height="62" fill="#fff"/>
<rect x="1534" y="421" width="1" height="29" fill="#000"/>
<rect x="1528" y="427" width="13" height="23" fill="#000"/>
<rect x="1529" y="428" width="11" height="21" fill="#fff"/>
<rect x="1551" y="407" width="1" height="34" fill="#000"/>
<rect x="1545" y="427" width="13" height="5" fill="#000"/>
<rect x="1569" y="431" width="1" height="18" fill="#000"/>
<rect x="1563" y="431" width="13" height="18" fill="#000"/>
<rect x="1586" y="426" width="1" height="42" fill="#000"/>
<rect x="1580" y="437" width="13" height="12" fill="#000"/>
<rect x="1581" y="438" width="11" height="10" fill="#fff"/>
<rect x="1604" y="405" width="1" height="48" fill="#000"/>
<rect x="1598" y="437" width="13" height="11" fill="#000"/>
<rect x="1621" y="439" width="1" height="31" fill="#000"/>
<rect x="1615" y="447" width="13" height="1" fill="#000"/>
<rect x="1639" y="427" width="1" height="22" fill="#000"/>
<rect x="1633" y="427" width="13" height="19" fill="#000"/>
<rect x="1634" y="428" width="11" height="17" fill="#fff"/>
</g>
<line x1="0" y1="427.5" x2="1816" y2="427.5" stroke="#4a4852" stroke-opacity="0.75" stroke-width="1" stroke-dasharray="1 2"/>
<line x1="2" y1="443.6" x2="1868" y2="443.6" stroke="#2fa18b" stroke-opacity="0.46" stroke-width="2.1" stroke-dasharray="5.5 5.5"/>
<line x1="0" y1="640.8" x2="1868" y2="640.8" stroke="#f5566a" stroke-opacity="0.42" stroke-width="1.6" stroke-dasharray="5.5 5.5"/>
<polygon points="131.5,340.8 136.7,350.4 126.3,350.4" fill="#000"/>
<polygon points="411.5,517.3 416.7,526.9 406.3,526.9" fill="#000"/>
<polygon points="639.5,194.8 644.7,204.4 634.3,204.4" fill="#000"/>
<polygon points="727.5,225.8 732.7,235.4 722.3,235.4" fill="#000"/>
<polygon points="797.5,175.5 802.7,185.1 792.3,185.1" fill="#000"/>
<polygon points="920.5,80.8 925.7,90.4 915.3,90.4" fill="#000"/>
<polygon points="1235.5,295.5 1240.7,305.1 1230.3,305.1" fill="#000"/>
<polygon points="1323.5,344.3 1328.7,353.9 1318.3,353.9" fill="#000"/>
<polygon points="1446.5,482.3 1451.7,491.9 1441.3,491.9" fill="#000"/>
<polygon points="1551.5,386.8 1556.7,396.4 1546.3,396.4" fill="#000"/>
<polygon points="1604.5,384.8 1609.7,394.4 1599.3,394.4" fill="#000"/>
<polygon points="20.3,557.2 30.7,557.2 25.5,566.6" fill="#000"/>
<polygon points="73.3,558.2 83.7,558.2 78.5,567.6" fill="#000"/>
<polygon points="178.3,816.7 188.7,816.7 183.5,826.1" fill="#000"/>
<polygon points="248.3,841.7 258.7,841.7 253.5,851.1" fill="#000"/>
<polygon points="354.3,879.7 364.7,879.7 359.5,889.1" fill="#000"/>
<polygon points="494.3,751.7 504.7,751.7 499.5,761.1" fill="#000"/>
<polygon points="669.3,615.7 679.7,615.7 674.5,625.1" fill="#000"/>
<polygon points="757.3,383.2 767.7,383.2 762.5,392.6" fill="#000"/>
<polygon points="862.3,422.2 872.7,422.2 867.5,431.6" fill="#000"/>
<polygon points="1073.3,565.7 1083.7,565.7 1078.5,575.1" fill="#000"/>
<polygon points="1301.3,496.2 1311.7,496.2 1306.5,505.6" fill="#000"/>
<polygon points="1406.3,613.7 1416.7,613.7 1411.5,623.1" fill="#000"/>
<polygon points="1476.3,617.2 1486.7,617.2 1481.5,626.6" fill="#000"/>
</g>
<rect x="1868" y="0" width="1" height="1041" fill="#000" shape-rendering="crispEdges"/>
<rect x="0" y="1013" width="1919" height="1" fill="#000" shape-rendering="crispEdges"/>
<g font-family='"Liberation Sans", sans-serif' font-size="11" fill="#1f1c24" stroke="#1f1c24" stroke-width="0.15" letter-spacing="-0.15">
<text x="1875" y="32.2">74,250</text>
<text x="1875" y="66.1">74,200</text>
<text x="1875" y="100.1">74,150</text>
<text x="1875" y="134">74,100</text>
<text x="1875" y="167.9">74,050</text>
<text x="1875" y="201.8">74,000</text>
<text x="1875" y="235.8">73,950</text>
<text x="1875" y="269.7">73,900</text>
<text x="1875" y="303.6">73,850</text>
<text x="1875" y="337.6">73,800</text>
<text x="1875" y="371.5">73,750</text>
<text x="1875" y="405.4">73,700</text>
<text x="1875" y="439.4">73,650</text>
<text x="1875" y="473.3">73,600</text>
<text x="1875" y="507.2">73,550</text>
<text x="1875" y="541.1">73,500</text>
<text x="1875" y="575.1">73,450</text>
<text x="1875" y="609">73,400</text>
<text x="1875" y="642.9">73,350</text>
<text x="1875" y="676.9">73,300</text>
<text x="1875" y="710.8">73,250</text>
<text x="1875" y="744.7">73,200</text>
<text x="1875" y="778.7">73,150</text>
<text x="1875" y="812.6">73,100</text>
<text x="1875" y="846.5">73,050</text>
<text x="1875" y="880.5">73,000</text>
<text x="1875" y="914.4">72,950</text>
<text x="1875" y="948.3">72,900</text>
<text x="1875" y="982.2">72,850</text>
</g>
<g font-family='"Liberation Sans", sans-serif' font-size="11" fill="#221f28" stroke="#221f28" stroke-width="0.18" text-anchor="middle" letter-spacing="-0.1">
<text x="61" y="1030">14:15</text>
<text x="148.6" y="1030">14:20</text>
<text x="236.3" y="1030">14:25</text>
<text x="324" y="1030">14:30</text>
<text x="411.7" y="1030">14:35</text>
<text x="499.4" y="1030">14:40</text>
<text x="587.1" y="1030">14:45</text>
<text x="674.7" y="1030">14:50</text>
<text x="762.4" y="1030">14:55</text>
<text x="850.1" y="1030" font-weight="bold">15:00</text>
<text x="937.8" y="1030">15:05</text>
<text x="1025.5" y="1030">15:10</text>
<text x="1113.2" y="1030">15:15</text>
<text x="1200.9" y="1030">15:20</text>
<text x="1288.5" y="1030">15:25</text>
<text x="1376.2" y="1030">15:30</text>
<text x="1463.9" y="1030">15:35</text>
<text x="1551.6" y="1030">15:40</text>
<text x="1639.3" y="1030">15:45</text>
<text x="1727" y="1030">15:50</text>
<text x="1814.6" y="1030">15:55</text>
</g>
<rect x="1837" y="93" width="76" height="17" rx="1.5" fill="#000"/>
<text x="1840" y="105.2" font-family='"Liberation Sans", sans-serif' font-size="10.4" font-weight="bold" fill="#fff" letter-spacing="-0.25">High</text>
<text x="1875" y="105.2" font-family='"Liberation Sans", sans-serif' font-size="10.8" font-weight="bold" fill="#fff" letter-spacing="-0.05">74,144</text>
<rect x="1839" y="861" width="74" height="17" rx="1.5" fill="#000"/>
<text x="1842" y="873.2" font-family='"Liberation Sans", sans-serif' font-size="10.4" font-weight="bold" fill="#fff" letter-spacing="-0.25">Low</text>
<text x="1875" y="873.2" font-family='"Liberation Sans", sans-serif' font-size="10.8" font-weight="bold" fill="#fff" letter-spacing="-0.05">73,012</text>
<rect x="1820" y="419" width="46" height="17" rx="2" fill="#7b7d88"/>
<text x="1824" y="431.5" font-family='"Liberation Sans", sans-serif' font-size="10.3" fill="#fff" letter-spacing="-0.45">BTCUSD</text>
<rect x="1868" y="419" width="45" height="28" rx="2" fill="#7b7d88"/>
<text x="1875" y="431.5" font-family='"Liberation Sans", sans-serif' font-size="11" fill="#fff" letter-spacing="-0.2">73,664</text>
<text x="1876" y="444.5" font-family='"Liberation Sans", sans-serif' font-size="11" fill="#dcdde2" letter-spacing="-0.2">00:42</text>
<rect x="1868" y="447" width="45" height="17" fill="#20a680"/>
<text x="1875" y="459.5" font-family='"Liberation Sans", sans-serif' font-size="11" fill="#c9f7e6" letter-spacing="-0.2">73,639</text>
<rect x="1868" y="632" width="45" height="17" rx="2" fill="#ee6d80"/>
<text x="1875" y="644.5" font-family='"Liberation Sans", sans-serif' font-size="11" fill="#fff" stroke="#fff" stroke-width="0.25" letter-spacing="-0.2">73,349</text>
<rect x="1873" y="987.5" width="19" height="21" rx="3" fill="#1b3d7e"/>
<text x="1882.5" y="1003" text-anchor="middle" font-family='"Liberation Sans", sans-serif' font-size="13" fill="#d6e4ff">A</text>
<rect x="1896" y="987.5" width="19" height="21" rx="3" fill="#141822"/>
<text x="1905.5" y="1003" text-anchor="middle" font-family='"Liberation Sans", sans-serif' font-size="13" fill="#fff">L</text>
<g fill="none" stroke="#2c2530" stroke-width="1.3"><polygon points="1888,1028 1891.5,1022 1898.5,1022 1902,1028 1898.5,1034 1891.5,1034" stroke-linejoin="round"/><circle cx="1895" cy="1028" r="2.2"/></g>
<rect x="342.7" y="433.7" width="73" height="20" fill="#eff7f8" stroke="#8dc5b5" stroke-width="1.5"/>
<text x="356" y="447.3" font-family='"Liberation Sans", sans-serif' font-size="10" font-weight="bold" fill="#5b9bd8" letter-spacing="0.45">PNL $0.05</text>
<rect x="416" y="434" width="50.5" height="19.5" fill="#050b12"/>
<text x="420.5" y="447.3" font-family='"Liberation Sans", sans-serif' font-size="10" font-weight="bold" fill="#fff" letter-spacing="0.75">0.00234</text>
<rect x="755" y="631.5" width="107" height="19" fill="#fcf5f7" stroke="#f1a9b3" stroke-width="1.3"/>
<rect x="759.5" y="634.5" width="1.2" height="13" fill="#f1a9b3"/>
<text x="768.5" y="644.6" font-family='"Liberation Sans", sans-serif' font-size="10" font-weight="bold" fill="#5b9bd8" letter-spacing="0.42">SL Price &lt; 73349</text>
<rect x="862.3" y="632" width="51" height="18.2" fill="#050b12"/>
<text x="868" y="644.6" font-family='"Liberation Sans", sans-serif' font-size="10" font-weight="bold" fill="#fff" letter-spacing="0.6">0.00234</text>
<rect x="913.5" y="631.5" width="20.5" height="19" fill="#f4f7fc" stroke="#a9c5ea" stroke-width="1.2"/>
<path d="M919.8 637 L927.6 644.8 M927.6 637 L919.8 644.8" stroke="#4a8fd8" stroke-width="1.4" fill="none"/>
<defs><filter id="sh" x="-10%" y="-30%" width="120%" height="180%"><feGaussianBlur stdDeviation="2.2"/></filter></defs>
<rect x="707" y="44" width="176" height="38" rx="6" fill="#000" opacity="0.35" filter="url(#sh)"/>
<rect x="707" y="42" width="176" height="38" rx="6" fill="#1e222d"/>
<g fill="#454955">
<circle cx="715.8" cy="55.7" r="1.25"/>
<circle cx="715.8" cy="61" r="1.25"/>
<circle cx="715.8" cy="66.2" r="1.25"/>
<circle cx="722.1" cy="55.7" r="1.25"/>
<circle cx="722.1" cy="61" r="1.25"/>
<circle cx="722.1" cy="66.2" r="1.25"/>
</g>
<g fill="#1e222d" stroke="#e9e9ee" stroke-width="1.1">
<rect x="741.4" y="52.4" width="17.2" height="17.2" fill="none"/>
<circle cx="741.4" cy="52.4" r="2.1"/>
<circle cx="741.4" cy="69.6" r="2.1"/>
<circle cx="758.6" cy="52.4" r="2.1"/>
<circle cx="758.6" cy="69.6" r="2.1"/>
<line x1="782.5" y1="61.5" x2="799.7" y2="61.5"/><circle cx="780.3" cy="61.5" r="2.1"/>
<line x1="826.5" y1="50.3" x2="826.5" y2="72.2"/><circle cx="826.5" cy="61.5" r="2.1"/>
<line x1="853" y1="51.6" x2="875.3" y2="51.6"/><line x1="853" y1="57.6" x2="872.5" y2="57.6"/>
<line x1="853" y1="63.6" x2="875.3" y2="63.6"/><line x1="855.5" y1="69.6" x2="875.3" y2="69.6"/>
<circle cx="874.8" cy="57.6" r="2.1"/><circle cx="853.4" cy="69.6" r="2.1"/>
</g>
<text x="9" y="21.2" font-family='"Liberation Sans", sans-serif' font-size="13.6" letter-spacing="-0.12" fill="#1d1a22">BTCUSD · 1 · Hyperliquid</text>
<circle cx="184.7" cy="15.9" r="7.6" fill="#cfe6e1" opacity="0.85"/><circle cx="184.7" cy="15.9" r="4.2" fill="#1aa085"/>
<g font-family='"Liberation Sans", sans-serif' font-size="12.6" fill="#2a2630" stroke="#2a2630" stroke-width="0.2" letter-spacing="-0.1">
<text x="210" y="21">O73,637</text>
<text x="265.5" y="21">H73,665</text>
<text x="319.8" y="21">L73,632</text>
<text x="372" y="21">C73,664</text>
<text x="426" y="21">31.000 (+0.04%)</text>
</g>
<rect x="9.5" y="30.5" width="38" height="19" rx="2" fill="#fae0e4" stroke="#eed5da" stroke-width="1"/>
<path d="M16.6 38.8 L19.8 42 L23 38.8" fill="none" stroke="#2a2630" stroke-width="1.3"/>
<text x="30" y="45" font-family='"Liberation Sans", sans-serif' font-size="12" fill="#2a2630">16</text>
<circle cx="28.6" cy="984.3" r="16" fill="#fff"/>
<g fill="#0c0c10"><path d="M18 979 h8.8 v10.7 h-4 v-7 h-4.8 z"/><circle cx="30" cy="981.1" r="1.9"/><path d="M34.7 979 h4.6 l-4.3 10.7 h-4.7 z"/></g>
</svg>
</div>
<div id="bar">
<span style="left:14px">5y</span><span style="left:40.5px">1y</span><span style="left:66px">6m</span><span style="left:97.5px">3m</span><span style="left:129px">1m</span><span style="left:160px">5d</span><span style="left:187px">1d</span>
<div class="sep" style="left:212px"></div>
<svg style="position:absolute;left:225px;top:9px" width="22" height="22" viewBox="0 0 22 22" fill="none" stroke="#d4d7de" stroke-width="1.3"><path d="M12.5 19.5h5.5a2 2 0 0 0 2-2v-11a2 2 0 0 0-2-2h-12a2 2 0 0 0-2 2v5"/><path d="M4 8.5h16M8 2v4M16 2v4"/><path d="M2 15.5h7.5M7 12.8l2.7 2.7L7 18.2"/></svg>
<span style="left:1698px">15:45:18 (UTC-5)</span>
<div class="sep" style="left:1814px"></div>
<span style="left:1826px">%</span><span style="left:1851.5px">log</span><span style="left:1882px;color:#4fd1b3;-webkit-text-stroke:0.25px #4fd1b3">auto</span>
</div>
</body></html>
